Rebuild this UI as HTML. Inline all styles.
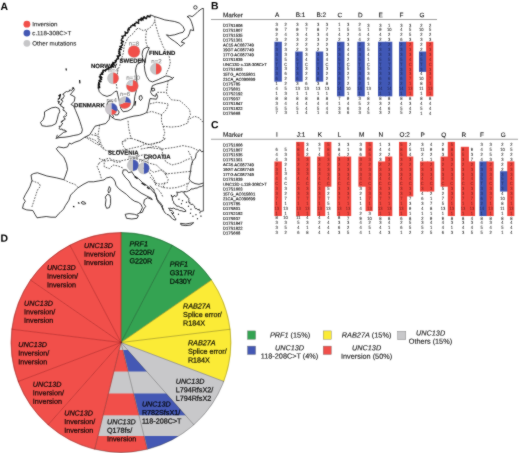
<!DOCTYPE html>
<html><head><meta charset="utf-8"><style>
html,body{margin:0;padding:0;background:#fff;width:520px;height:453px;overflow:hidden}
svg{display:block}
text{font-family:"Liberation Sans",sans-serif;text-rendering:geometricPrecision}
.pl{font-size:10.4px;font-weight:bold;fill:#000}
.hd{font-size:6.4px;fill:#111;stroke:#111;stroke-width:0.1}
.rl{font-size:4.15px;fill:#1a1a1a;stroke:#1a1a1a;stroke-width:0.14}
.dg{font-size:4.6px;fill:#1a1a1a;stroke:#1a1a1a;stroke-width:0.06;text-anchor:middle}
.dk{fill:#000;fill-opacity:0.5;stroke:#000;stroke-opacity:0.3}
.pt{font-size:7.2px;fill:#000;fill-opacity:0.85;stroke:#000;stroke-opacity:0.6;stroke-width:0.35}
.it{font-style:italic}
.lg{font-size:7.3px;fill:#222;stroke:#222;stroke-width:0.12}
.lgA{font-size:6.2px;fill:#222;stroke:#222;stroke-width:0.1}
.nl{font-size:6.1px;fill:#858585;stroke:#858585;stroke-width:0.1}
.cl{font-size:6px;font-weight:bold;fill:#111;stroke:#111;stroke-width:0.15}
.cst{fill:none;stroke:#111;stroke-width:0.8;stroke-linejoin:round}
.thick{stroke-width:1.2}
.nor{stroke-width:1.3}
.brd{fill:none;stroke:#333;stroke-width:0.8;stroke-dasharray:1.7 1.2}
</style></head><body>
<svg width="520" height="453" viewBox="0 0 520 453">
<defs><filter id="soft" x="0" y="0" width="520" height="453" filterUnits="userSpaceOnUse" color-interpolation-filters="sRGB"><feConvolveMatrix order="3" kernelMatrix="1 2 1 2 20 2 1 2 1" divisor="32" edgeMode="duplicate"/></filter></defs>
<g filter="url(#soft)">
<rect width="520" height="453" fill="#fff"/>
<path d="M117,91 L114.7,91.7 L111.6,94.8 L107,96.4 L102.4,94.8 L99.3,91.7 L98.5,88.6" class="cst"/>
<path d="M98.6,88.6 L98.2,88 L99.8,87.6 L98.1,86.9 L99.6,86.5 L99.1,85.9 L98.2,85.2 L99.7,84.8 L98.3,84.1 L99.6,83.7 L98.6,83 L98.7,82.4 L99.8,82 L101.1,81.6 L99,80.8 L99.4,80.2 L100.7,79.8 L101.7,79.3 L100.6,78.7 L100.1,78 L102,77.7 L99.2,76.8 L101.6,77.1 L100.3,75.8 L100.1,75.1 L100.3,74.5 L101.1,74.2 L102.8,74.4 L101.3,73 L102.7,73.1 L103.1,72.6 L102.5,71.8 L103.3,72 L102.9,70.4 L103.4,70.1 L104.1,70.2 L105.4,71.1 L105.4,70.1 L105.7,69.5 L106.6,69.9 L106.8,69.2 L107,68.5 L108.4,69.5 L108.7,68.9 L108.5,67.4 L109.5,67.9 L110,67.5 L111.1,68 L111.3,67.3 L111.1,65.8 L113.4,66.7 L111.5,64.7 L112.6,64.8 L113.7,64.9 L112.5,63.4 L113.7,63.5 L112.8,62.3 L114.8,62.9 L115.3,62.6 L115.1,61.8 L116.2,61.8 L115.1,60.4 L116.4,60.6 L116.4,60 L116.7,59.5 L116.7,58.8 L118,59 L118.6,58.7 L117.7,57.4 L118.5,57.3 L117.1,56 L119.2,56.1 L119.2,55.5 L120.4,55.3 L120.1,54.6 L118.7,53.6 L119.2,53.2 L120.2,52.9 L118.5,51.8 L119.9,51.6 L119.2,50.9 L119.1,50.3 L119,49.7 L121.3,49.6 L119.5,48.7 L119.9,48.2 L120.5,47.7 L122,47.5 L119.8,46.4 L121,46.1 L121.4,45.6 L122.5,45.2 L122.4,44.7 L122.7,44.1 L121,43.2 L121.6,42.7 L121.5,42.2 L123.2,41.9 L123.5,41.5 L121.2,40.3 L121.4,39.8 L121.7,39.3 L121.9,38.7 L122.7,38.4 L123.2,37.9 L122.3,37.1 L121.9,36.2 L123.3,36.3 L123.5,35.8 L124.3,35.6 L125.6,35.7 L125.2,34.8 L125,34 L125.6,33.7 L125.8,33.6 L124.9,31.8 L127.1,33.3 L127.3,32.6 L127.9,32.4 L128.1,31.8 L127.7,30.5 L128.1,30.1 L127.9,29.1 L129.4,29.9 L128.6,28.2 L129.1,27.8 L129.8,27.8 L130.1,27.3 L130.9,27.3 L130.8,26.3 L131.1,25.8 L131.9,25.8 L132.2,25.3 L133.2,25.6 L133,24.4 L135.1,26 L135,25 L134.5,23.6 L135.2,23.4 L135.8,23.3 L136.3,23 L136.2,22 L138.1,23.3 L138.8,23.3 L138.2,21.7 L138.7,21.4 L138.3,20.1 L138.8,19.7 L139.7,19.9 L140,19.3 L141.3,20.6 L140.9,18.5 L141.3,17.9 L143,20.2 L143,18.8 L143.1,17.5 L144.1,18.3 L144,16.6 L145.2,17.7 L146.1,18.8 L146.5,18.3 L146.9,17.6 L147,16.2 L147.6,16.3 L147.9,15.6 L149.1,17.1 L149.4,16.3 L150.1,16.8 L150.2,15.3 L150.7,15" class="cst nor"/>
<path d="M150.7,15 L154.8,16.6 L159.8,18.2 L164.8,19.9 L169.7,20.7 L174.7,21.5 L179.7,23.2 L183,26.5 L184.6,29.8 L183,32.3 L179.7,33.1 L174.7,34.8 L169.7,35.6 L166.4,34.8 L169.7,38.1 L174.7,41.4 L178,43.9 L180.5,46.4 L183,44.7 L184.6,43 L181.3,42.2 L183,39.7 L186.3,38.1 L188,36.4 L189.6,33.1 L190.4,29.8 L193.7,30.6 L192.9,26.5 L191.3,21.5 L189.6,18.2 L187.1,16.6 L189.6,15.7 L192.1,16.6 L194.6,14.9 L197.9,11.6 L201.2,9.1 L203,8.3" class="cst"/>
<circle cx="195.4" cy="7.4" r="1.7" class="cst"/>
<path d="M117,91 L117.8,94.8 L118.6,97.9 L119.5,102 L120.2,105.5 L120.9,108.7 L123.2,111.8 L127.9,111 L131.7,108.7 L134,104.1 L134.8,96.4 L136.4,90.2 L137,84 L136.4,76.3 L135.5,70.9 L136,67.6 L137.1,64.3 L139.3,63.2 L141.6,61 L142.7,57.7 L142.1,54.3 L142.7,51 L143.8,48.8 L144.9,48.3 L147.1,47.2 L149.3,47.7 L148,50.5 L146.5,54.3 L145.4,59.9 L144.3,65.4 L144.9,70.9 L146.5,76.4 L149.3,80.8 L152.6,81.9 L158.1,79.7 L162.5,77.5 L165.8,75.9 L169.2,76.4 L172.5,78.1 L174,77.2" class="cst"/>
<path d="M173,78.6 L168.1,80.7 L163.1,82.4 L156.5,84 L152.4,85.7 L151.5,89 L150.6,92.3 L152.5,95.2 L155.5,96.4 L156.4,93.5 L157.6,96.5 L156.5,99.2 L152.5,98.8 L150,98.6 L149,103 L148.2,108 L146.6,112.5 L143.2,114.2 L139.4,115.4 L134,116.1 L128.6,117.4 L124.6,118.7 L120.6,120.1 L115.2,119.4 L112,117.2 L109.8,115.4 L109.2,112 L107.4,108.5 L107,104 L108.6,101.3 L111.5,101 L113,102.2" class="cst"/>
<path d="M114.5,110.5 L117.5,109.6 L119.2,112 L118,114.8 L115,115 L114,112.6Z" class="cst"/>
<path d="M112.4,114.6 L113.6,116.8 L111.9,118" class="cst"/>
<path d="M151.3,88.6 L154.2,88.2 L154.8,90.3 L152.5,91.2Z" class="cst"/>
<path d="M139.4,96 L141.5,95.6 L142.4,98.2 L140.6,100.6 L139.2,99Z" class="cst"/>
<path d="M135.6,101.2 L134.8,105.6" class="cst thick"/>
<path d="M109.8,115.4 L109.2,119.4 L105.8,123.5 L100.4,124.8 L95,126.2 L92.3,130.6 L89.8,134.7 L84.8,137.2 L79.9,140.5 L74.9,142.2 L71.3,144 L69.4,143.1 L67.5,146.9 L63.8,147.8 L58.2,146.9 L56.3,148.8 L59.1,152.5 L63.8,157.2 L66.6,163.8 L67.5,169.4 L65.7,175 L63.8,179.7 L56.3,177.8 L46.9,176 L37.5,172.8 L33.8,173.5 L31,175 L31.9,180.7 L30,186.3 L28.1,190 L25.3,194.7 L23.5,198.5 L25.3,201.3 L23.5,204.1 L22.5,208.3 L26.7,209.9 L32.8,210.5 L35.2,214.7 L37,217.8 L41.3,217.2 L46.2,216.5 L51,217.2 L55.9,217.2 L58.3,214.1 L60,212.7 L63.5,209.2 L65.3,205.7 L68.8,200.4 L70.6,195.1 L74.1,191.5 L77.7,188 L83,184.5 L88.3,181.8 L93.6,181.8 L98.9,180.9 L104,179.9 L106.6,177.9 L110.6,177 L113.2,178.5 L115.2,181.9 L115.9,185.2 L118.5,188.5 L121.9,191.1 L126.5,194.4 L130.5,198.4 L134.4,201.1 L138.4,202.4 L141.1,204.4 L142.4,207.7 L141.1,210.3 L139.7,212.9 L137.1,214.3" class="cst"/>
<path d="M139.7,213 L142.4,212.3 L143.7,209 L145.7,206.4 L143.7,203.7 L144.4,199.7 L147.7,197.7 L152.3,199.7 L151.5,198.4 L146.4,195.8 L141.1,193.1 L135.8,189.1 L131.8,186.5 L129.1,181.2 L125.2,177.2 L122.5,173.2 L123.2,169.9 L126.5,169.9 L128.5,172.6 L131.8,171.9 L134.4,175.9 L138.4,178.5 L142.4,182.5 L146.4,185.2 L150.3,188.5 L154.3,193.1 L156.1,194.6 L156.7,199 L158.5,202.6 L160.9,205 L162.1,207.5 L163.3,209.9" class="cst"/>
<path d="M134.5,176.5 L137.5,178.8" class="cst thick"/>
<path d="M141.5,183 L145.5,185.6" class="cst thick"/>
<path d="M147,187.2 L149.5,189" class="cst thick"/>
<path d="M125.2,214.3 L129.1,213.6 L134.4,214.3 L138.4,215.6 L137.1,218.3 L131.8,219 L126.5,218.3Z" class="cst"/>
<path d="M109.3,186.5 L110.6,188.5 L109.9,191.8 L108.6,193.1 L108,190.5Z" class="cst"/>
<path d="M107.3,194.4 L109.9,195.1 L110.6,198.4 L110.6,203.7 L109.3,207.7 L106.6,208.3 L105.3,205 L106,199.7 L105.3,197.1Z" class="cst"/>
<path d="M82,201.6 L84.6,202 L85.8,203.8 L83,204.2 L81.2,203Z" class="cst"/>
<path d="M78,202.6 L79.4,203.4" class="cst thick"/>
<path d="M73,206.4 L74.4,206.8" class="cst thick"/>
<path d="M150,185.6 L150.3,186.6 L151.3,186.9 L152.3,188.6 L154,189.6 L154.2,191.7 L155.3,193.5 L155.5,195.7 L156.6,197.5 L157.2,199.4 L158.6,200.8 L159.2,202.2 L160.6,202.8 L161.2,204.4 L162.6,205.5 L162.4,207.2 L163.2,208.8 L163.1,210 L163.9,210.8 L164.5,212.4 L165.9,213.4 L167,214.5 L168.5,214.7 L169.2,215.8 L170.5,216.1 L171.1,217.7 L172.5,218.7 L174,219.8 L175.8,220 L175.6,218.5 L174.5,217.4 L173.9,215.8 L172.5,214.7 L172.3,213.3 L171.2,212.5 L172.2,213.5 L173.5,213.5 L173.3,211.9 L172.2,210.8 L171.1,210.3 L169.9,210.8 L169.6,209.2 L168.5,208.1 L169.2,208.6 L169.9,208.1 L171.9,208.6 L173.8,208.1 L175.6,209.2 L177.8,209.4 L179.6,210.6 L181.8,210.8 L183.7,211.6 L185.8,211.4 L185.5,210.1 L184.4,209.4 L182.7,208 L180.5,207.5 L178.7,206.3 L176.5,206.1 L175.5,204.4 L173.8,203.5 L173.6,201.7 L172.5,200.2 L172.3,197.4 L171.2,194.9 L171.6,196.2 L172.8,196.9 L173.9,196.4 L174.2,195.3 L175.2,196.2 L176.5,196.2 L177.3,195.1 L177.2,193.8 L177.3,192.8 L176.5,192.2 L179.2,192.4 L181.8,191.6 L183.1,192.1 L184.4,191.6 L186.5,191.7 L188.4,190.9 L190,190.3 L191,188.9 L193.1,189 L195,188.2 L197.2,188 L199,186.9 L201.5,186.5 L203.6,185.2" class="cst"/>
<path d="M184.5,191.5 L184,192.8 L184.2,193.7 L184.8,194 L185.2,194.6 L185.5,195.3 L186,195.9 L187.2,196.1 L187,197.1 L187.6,197.6 L188.5,197.9 L188.9,198.6 L188.7,199.5 L189.1,200.1 L188.7,201.2 L188.8,202.4 L190,202.2 L189.9,203.5 L190.4,204.1 L191,204.5 L192.3,204.2 L193,204.6 L193.5,205.1 L194.1,205.6 L194.6,206.1 L194.6,207.3 L195,208.3 L195.7,208.7 L196.8,208.6 L197.4,209.4 L197.9,210 L199.2,209.1 L199.3,210.4 L200,211.3 L200.9,211.2 L201.8,211.3 L202.7,211 L203.6,210.8" class="cst"/>
<path d="M191.3,165 L190.7,169.9 L190,174.7 L189.1,179 L191,181.6 L195,183.6 L199,184.3 L203.6,183" class="cst"/>
<path d="M196.3,153.5 L199.8,149.5 L201.6,151.8 L203.6,151.2" class="cst"/>
<path d="M192.7,161 L195.4,158 L196.3,153.5" class="cst"/>
<path d="M191.3,165 L192.7,161" class="cst"/>
<path d="M180.5,223.3 L185.8,224 L189.7,223.3 L193.7,222.7 L191,225 L185.8,225.6 L181.1,225Z" class="cst"/>
<path d="M190,213 L190.9,213.6" class="cst thick"/>
<path d="M192.5,216 L193.4,216.6" class="cst thick"/>
<path d="M195.5,214.5 L196.4,215.1" class="cst thick"/>
<path d="M197,218.5 L197.9,219.1" class="cst thick"/>
<path d="M199.5,212.5 L200.4,213.1" class="cst thick"/>
<path d="M200.5,215.8 L201.4,216.4" class="cst thick"/>
<path d="M188,206 L188.9,206.6" class="cst thick"/>
<path d="M190.5,209 L191.4,209.6" class="cst thick"/>
<path d="M186,202 L186.9,202.6" class="cst thick"/>
<path d="M182,200.5 L182.9,201.1" class="cst thick"/>
<path d="M178.5,199 L179.4,199.6" class="cst thick"/>
<path d="M181,203.5 L181.9,204.1" class="cst thick"/>
<path d="M178,214 L178.9,214.6" class="cst thick"/>
<path d="M73.6,87.9 L74.3,89.9 L70.3,94.6 L73,95.9 L75,97.2 L74.3,101.2 L71,104.5 L73.6,105.8 L75.6,110.5 L78.3,117 L79.9,121.5 L81.5,126.5 L82.4,129.8 L81.5,133.1 L78.2,134.7 L73.2,135.6 L69.9,136.4 L65,137.2 L60,137.5 L55.8,138.3 L59.7,135.6 L63.7,132.3 L66.4,131.7" class="cst"/>
<path d="M66.3,131.9 L66,130.7 L65.1,131.1 L64.7,130.1 L64.1,129.6 L63.1,130.3 L62.4,130 L62.1,128.9 L61.4,129.1 L60.2,129.4 L59.5,128.9 L58.9,128.4 L59.3,128.3 L59.6,127.5 L59.1,126.2 L60.2,126.4 L61.1,126.1 L61.4,125.2 L61.8,124.3 L62.8,123.5 L61.8,123.1 L61.3,122.6 L62.4,121.1 L61.3,121.5 L61.9,120.9 L62.9,121.1 L63.2,120 L64.2,120.2 L65.3,118.8 L64,118.2 L63.9,117.3 L63.7,116.4 L64.6,116.1 L65.6,116.5 L66.4,115.8 L66.4,114.9 L65.8,114.2 L66.9,113.1 L65.8,112.4 L65.2,111.8 L64.7,111.2 L64.4,110.4 L63.2,110.3 L63.3,110.4 L63.1,109.3 L63.6,108.7 L63.9,107.5 L62.8,107.7 L62.5,106.6 L61.6,106.4 L60.7,106.1 L61,104.5 L59.6,104.4 L60.5,104.2 L61.3,104 L61.6,103.3 L61.9,102.5 L62.7,101.7 L62.3,101 L62.2,100.1 L60.8,99.7 L61.8,99.6 L61.9,98.8 L62.3,98.2 L63.4,98.2 L63.5,97.4 L64.1,96.4 L64.1,95.6 L64,94.8 L63,94.5 L62.7,94.3 L63.3,93.7 L63.9,93.2 L64.8,92.9 L65.1,92.2 L65.9,91.9 L66.5,91.5 L67.5,91.9 L67.9,91.3 L68.7,91.3 L69.4,91.2 L69.7,89.9 L70.5,90.2 L71.4,90.6 L72.3,90 L72.2,88.6 L72.8,88.1 L73.6,87.9" class="cst"/>
<path d="M51.8,107.8 L55.8,107.2 L59,108.5 L59.7,111.8 L58.4,114.4 L57.1,119.7 L55.8,123.7 L51.8,125.7 L46.5,126.4 L41.9,125.7 L40.5,122.4 L43.2,119.7 L44.5,115.8 L44.5,111.8 L47.8,109.8Z" class="cst"/>
<path d="M58.5,96 L60.5,94.5 L59.6,98.2 L57.8,99.4" class="cst thick"/>
<path d="M57.5,101 L59.2,101.5 L58.5,103.6" class="cst thick"/>
<path d="M66,68.3 L66.4,70.5" class="cst thick"/>
<path d="M79.6,80 L79.9,83.4" class="cst thick"/>
<path d="M72.6,87.4 L73.8,88.6" class="cst thick"/>
<path d="M56,136.6 L57.8,135" class="cst"/>
<path d="M117,88.6 L116.3,84 L117,76.3 L117.8,70.1 L119.8,65.5 L120.6,61.8 L123.3,53 L124.2,46 L127.7,38 L133,33.6 L136.6,29" class="brd"/>
<path d="M136.6,29 L138.3,28.1 L143.2,30.6 L148.2,29 L151.5,26.5 L154.8,21.5 L154.8,17" class="brd"/>
<path d="M146.6,30.6 L145.7,36.4 L146,42.2 L147.1,45.5 L147.5,47.5" class="brd"/>
<path d="M154.8,21.5 L156.5,28.1 L159,36.4 L161.4,42.2 L163.1,46.6 L165.8,51 L169.2,56.6 L170.3,62.1 L169.2,67.6 L167,72 L165.8,75.3" class="brd"/>
<path d="M168.1,80.7 L167.3,86.5 L166.4,92.3 L167.3,94.8 L171.4,99.8 L179.7,100.6 L184.6,104.7 L189.6,109.7 L190.4,114.7 L188,119.6 L194.6,116.3 L199.5,118 L202.8,122.1" class="brd"/>
<path d="M157.3,92.3 L166.4,92.3" class="brd"/>
<path d="M149.9,103.9 L156.5,102.3 L163.1,103.1 L168.1,103.9" class="brd"/>
<path d="M168.1,104.7 L166.4,109.7 L161.5,114.7 L156.5,113 L151.5,111.4 L146.6,113" class="brd"/>
<path d="M161.5,114.7 L161.5,121.3 L163.1,126.3 L164.8,132.9 L163.1,137.8 L165.3,138.5" class="brd"/>
<path d="M163.1,126.3 L171.4,127.1 L179.7,126.3 L188,123 L188,119.6" class="brd"/>
<path d="M128,120.8 L128.6,127.5 L130,134.2 L131.3,138.3" class="brd"/>
<path d="M131.3,138.3 L126,138.9 L121.9,142.3 L123.3,146.3 L126,149.7" class="brd"/>
<path d="M131.3,138.3 L139.4,141 L146.1,143.6 L151.5,145 L156,143 L160,142.1 L165.3,138.5" class="brd"/>
<path d="M126,149.7 L134,147.7 L140.8,146.3 L146.1,143.6" class="brd"/>
<path d="M140.8,149 L148.8,147.7 L155.6,146.3 L160,147.5 L161.8,149.1" class="brd"/>
<path d="M95,132.9 L97.7,136.9 L99,142.3 L101.7,147.7 L105.8,150.4 L112.5,151.7 L119.2,150.4 L126,149.7" class="brd"/>
<path d="M99.7,124.8 L98.9,129.8 L98.1,134.7 L99.7,139.7 L101.4,144.7 L104.7,149.6" class="brd"/>
<path d="M84.8,137.2 L89.8,139.7 L94.8,143 L99.7,145.5" class="brd"/>
<path d="M91.5,134.7 L96.4,135.6" class="brd"/>
<path d="M98.9,163.3 L97.1,166.8 L98.9,170.3 L100.6,175.6 L101.5,179.2" class="brd"/>
<path d="M98.9,163.3 L104.2,159.7 L109.5,158 L113,161.5 L118.3,162.4 L121.8,161.5" class="brd"/>
<path d="M104.2,159.7 L104.2,166.8 L109.5,168.6 L113,165 L118,166 L123,168" class="brd"/>
<path d="M99,158.5 L105.8,161.1 L112.5,159.8 L119.2,161.1 L126,159.8 L132.7,158.5 L139.4,155.8 L144.8,154.4" class="brd"/>
<path d="M121.8,142.1 L127.1,140.3" class="brd"/>
<path d="M86.5,136.8 L95.3,140.3 L100.6,145.6" class="brd"/>
<path d="M63.8,179.7 L69.4,182.5 L75,184.4 L77.7,187" class="brd"/>
<path d="M31.9,180.7 L39.4,183.5 L40.3,186.3 L37.5,190 L35.6,195.7 L33.8,201.3 L31.9,206.9" class="brd"/>
<path d="M137.1,140.3 L147.7,144.7 L160,142.1 L165.3,138.5" class="brd"/>
<path d="M147.7,147.4 L161.8,149.1 L174.2,147.4 L183,145.6 L191.8,147.4 L198.9,150.9" class="brd"/>
<path d="M133.5,158 L140.6,159.7 L149.4,163.3 L156.5,165 L165.3,173.9" class="brd"/>
<path d="M165.3,173.9 L175.9,173 L183,172.1 L191.8,171.2" class="brd"/>
<path d="M188.3,150.9 L191.8,158 L192.7,165" class="brd"/>
<path d="M150,177.1 L153.6,180.8 L156.1,185.6" class="brd"/>
<path d="M165.3,173.9 L168.2,179.6 L167.2,183 L164.6,183 L160.6,184.3 L155.3,183" class="brd"/>
<path d="M158,185.6 L163.2,187.6 L169.9,188.2 L176.5,187.6 L183.1,185.6 L188.4,183 L190,181.5" class="brd"/>
<path d="M156.6,188.2 L160.6,192.2 L163.2,197.5" class="brd"/>
<path d="M164.6,183 L163.2,187.6" class="brd"/>
<path d="M188.4,183 L187,186.5 L186.8,189.5" class="brd"/>
<path d="M147.7,170.3 L153,177.4 L156.5,184.5" class="brd"/>
<path d="M150,169.9 L153.6,172.3 L162.1,169.9 L168.2,174.7" class="brd"/>
<path d="M161.8,149.1 L163,156 L166,162 L172,165 L180,163 L186,160 L191.8,158" class="brd"/>
<path d="M137.1,166 L143,168 L147.7,170.3" class="brd"/>
<path d="M130,160 L131.8,165 L131.8,171.9" class="brd"/>
<circle cx="26.9" cy="24.2" r="3.4" fill="#f14f4a"/>
<circle cx="26.9" cy="33.1" r="3.4" fill="#4458b4"/>
<circle cx="26.9" cy="43.3" r="3.4" fill="#c6c6c8"/>
<circle cx="134" cy="51.6" r="6.0" fill="#f14f4a"/>
<circle cx="134" cy="51.6" r="6.0" fill="none" stroke="#9a9a9a" stroke-width="0.3"/>
<path d="M156,68.9L156.00,63.30A5.6,5.6 0 0 1 156.00,74.50Z" fill="#f14f4a"/>
<path d="M156,68.9L156.00,74.50A5.6,5.6 0 0 1 156.00,63.30Z" fill="#c6c6c8"/>
<circle cx="156" cy="68.9" r="5.6" fill="none" stroke="#9a9a9a" stroke-width="0.3"/>
<path d="M113.1,78.2L113.10,72.60A5.6,5.6 0 0 1 113.10,83.80Z" fill="#f14f4a"/>
<path d="M113.1,78.2L113.10,83.80A5.6,5.6 0 0 1 113.10,72.60Z" fill="#c6c6c8"/>
<circle cx="113.1" cy="78.2" r="5.6" fill="none" stroke="#9a9a9a" stroke-width="0.3"/>
<path d="M132.3,86.0L133.14,80.06A6.0,6.0 0 1 1 126.43,84.75Z" fill="#f14f4a"/>
<path d="M132.3,86.0L126.43,84.75A6.0,6.0 0 0 1 128.86,81.09Z" fill="#c6c6c8"/>
<path d="M132.3,86.0L128.86,81.09A6.0,6.0 0 0 1 130.75,80.20Z" fill="#b9c3dd"/>
<path d="M132.3,86.0L130.75,80.20A6.0,6.0 0 0 1 133.14,80.06Z" fill="#c6c6c8"/>
<circle cx="132.3" cy="86.0" r="6.0" fill="none" stroke="#9a9a9a" stroke-width="0.3"/>
<path d="M124.9,102.6L125.94,96.69A6.0,6.0 0 0 1 130.88,103.12Z" fill="#4458b4"/>
<path d="M124.9,102.6L130.88,103.12A6.0,6.0 0 0 1 119.26,104.65Z" fill="#f14f4a"/>
<path d="M124.9,102.6L119.26,104.65A6.0,6.0 0 0 1 125.94,96.69Z" fill="#c6c6c8"/>
<circle cx="124.9" cy="102.6" r="6.0" fill="none" stroke="#9a9a9a" stroke-width="0.3"/>
<path d="M111.4,109.0L111.40,103.00A6.0,6.0 0 0 1 116.84,111.54Z" fill="#4458b4"/>
<path d="M111.4,109.0L116.84,111.54A6.0,6.0 0 0 1 111.40,115.00Z" fill="#f14f4a"/>
<path d="M111.4,109.0L111.40,115.00A6.0,6.0 0 0 1 111.40,103.00Z" fill="#cbc6cc"/>
<circle cx="111.4" cy="109.0" r="6.0" fill="none" stroke="#9a9a9a" stroke-width="0.3"/>
<path d="M133,165.3L133.00,159.60A5.7,5.7 0 0 1 133.00,171.00Z" fill="#4458b4"/>
<path d="M133,165.3L133.00,171.00A5.7,5.7 0 0 1 133.00,159.60Z" fill="#c6c6c8"/>
<circle cx="133" cy="165.3" r="5.7" fill="none" stroke="#9a9a9a" stroke-width="0.3"/>
<path d="M143.7,168.3L143.70,162.60A5.7,5.7 0 0 1 143.70,174.00Z" fill="#4458b4"/>
<path d="M143.7,168.3L143.70,174.00A5.7,5.7 0 0 1 143.70,162.60Z" fill="#c6c6c8"/>
<circle cx="143.7" cy="168.3" r="5.7" fill="none" stroke="#9a9a9a" stroke-width="0.3"/>
<rect x="202.9" y="8" width="0.8" height="202.8" fill="#333"/>

<rect x="211" y="19.1" width="226" height="0.8" fill="#8a8a8a"/>
<rect x="274.4" y="41.75" width="7.45" height="39.91" fill="#4158b6"/>
<rect x="295.2" y="51.52" width="7.45" height="30.13" fill="#4158b6"/>
<rect x="315.8" y="51.52" width="7.45" height="30.13" fill="#4158b6"/>
<rect x="337" y="41.75" width="7.45" height="54.57" fill="#4158b6"/>
<rect x="357.3" y="41.75" width="7.45" height="54.57" fill="#4158b6"/>
<rect x="378" y="41.75" width="8.15" height="54.57" fill="#4158b6"/>
<rect x="385.15" y="41.75" width="7.15" height="54.57" fill="#4158b6"/>
<rect x="399" y="41.75" width="8.15" height="54.57" fill="#4158b6"/>
<rect x="406.15" y="41.75" width="7.15" height="54.57" fill="#f1473f"/>
<rect x="419" y="51.52" width="8.15" height="20.36" fill="#4158b6"/>
<rect x="426.15" y="41.75" width="7.15" height="54.57" fill="#f1473f"/>
<rect x="211" y="138.8" width="307" height="0.8" fill="#8a8a8a"/>
<rect x="274.4" y="161.45" width="7.45" height="54.57" fill="#f1473f"/>
<rect x="296.1" y="141.9" width="8.15" height="74.12" fill="#f1473f"/>
<rect x="303.25" y="156.56" width="7.15" height="59.46" fill="#f1473f"/>
<rect x="317.1" y="156.56" width="8.15" height="59.46" fill="#f1473f"/>
<rect x="324.25" y="141.9" width="7.15" height="44.8" fill="#f1473f"/>
<rect x="336.9" y="156.56" width="8.15" height="59.46" fill="#f1473f"/>
<rect x="344.05" y="156.56" width="7.15" height="59.46" fill="#f1473f"/>
<rect x="358.4" y="156.56" width="8.15" height="30.13" fill="#f1473f"/>
<rect x="365.55" y="141.9" width="7.15" height="69.23" fill="#f1473f"/>
<rect x="378" y="161.45" width="8.15" height="54.57" fill="#f1473f"/>
<rect x="385.15" y="156.56" width="7.15" height="59.46" fill="#f1473f"/>
<rect x="399" y="141.9" width="8.15" height="74.12" fill="#f1473f"/>
<rect x="406.15" y="156.56" width="7.15" height="39.91" fill="#f1473f"/>
<rect x="420" y="161.45" width="8.15" height="30.13" fill="#f1473f"/>
<rect x="427.15" y="161.45" width="7.15" height="30.13" fill="#f1473f"/>
<rect x="440.6" y="156.56" width="8.15" height="30.13" fill="#f1473f"/>
<rect x="447.75" y="141.9" width="7.15" height="74.12" fill="#f1473f"/>
<rect x="460.8" y="146.79" width="8.15" height="69.23" fill="#f1473f"/>
<rect x="467.95" y="161.45" width="7.15" height="54.57" fill="#f1473f"/>
<rect x="479.4" y="161.45" width="8.15" height="54.57" fill="#4158b6"/>
<rect x="486.55" y="161.45" width="7.15" height="54.57" fill="#f1473f"/>
<rect x="500.1" y="171.22" width="8.15" height="20.36" fill="#4158b6"/>
<rect x="507.25" y="161.45" width="7.15" height="54.57" fill="#f1473f"/>
<defs>
<clipPath id="cp5"><path d="M121,342.5L193.94,424.84A110,110 0 0 1 147.32,449.3Z"/></clipPath>
<clipPath id="cp6"><path d="M121,342.5L147.32,449.3A110,110 0 0 1 94.68,449.3Z"/></clipPath>
</defs>
<path d="M121,342.5L121,232.5A110,110 0 0 1 172.12,245.1Z" fill="#34a352" stroke="#34a352" stroke-width="0.6"/>
<path d="M121,342.5L172.12,245.1A110,110 0 0 1 211.53,280.01Z" fill="#34a352" stroke="#34a352" stroke-width="0.6"/>
<path d="M121,342.5L211.53,280.01A110,110 0 0 1 230.2,329.24Z" fill="#fbeb36" stroke="#fbeb36" stroke-width="0.6"/>
<path d="M121,342.5L230.2,329.24A110,110 0 0 1 223.85,381.51Z" fill="#fbeb36" stroke="#fbeb36" stroke-width="0.6"/>
<path d="M121,342.5L223.85,381.51A110,110 0 0 1 193.94,424.84Z" fill="#c8c8ca" stroke="#c8c8ca" stroke-width="0.6"/>
<path d="M121,342.5L193.94,424.84A110,110 0 0 1 147.32,449.3Z" fill="#c8c8ca" stroke="#c8c8ca" stroke-width="0.6"/>
<g clip-path="url(#cp5)">
<rect x="0" y="350" width="260" height="21.5" fill="#4458b4"/>
<rect x="0" y="393.5" width="260" height="21.8" fill="#4458b4"/>
<rect x="0" y="436" width="260" height="24" fill="#4458b4"/>
</g>
<path d="M121,342.5L147.32,449.3A110,110 0 0 1 94.68,449.3Z" fill="#c8c8ca" stroke="#c8c8ca" stroke-width="0.6"/>
<g clip-path="url(#cp6)">
<rect x="0" y="350" width="260" height="21.5" fill="#f14f4a"/>
<rect x="0" y="393.5" width="260" height="21.8" fill="#f14f4a"/>
<rect x="0" y="436" width="260" height="24" fill="#f14f4a"/>
</g>
<path d="M121,342.5L94.68,449.3A110,110 0 0 1 48.06,424.84Z" fill="#f14f4a" stroke="#f14f4a" stroke-width="0.6"/>
<path d="M121,342.5L48.06,424.84A110,110 0 0 1 18.15,381.51Z" fill="#f14f4a" stroke="#f14f4a" stroke-width="0.6"/>
<path d="M121,342.5L18.15,381.51A110,110 0 0 1 11.8,329.24Z" fill="#f14f4a" stroke="#f14f4a" stroke-width="0.6"/>
<path d="M121,342.5L11.8,329.24A110,110 0 0 1 30.47,280.01Z" fill="#f14f4a" stroke="#f14f4a" stroke-width="0.6"/>
<path d="M121,342.5L30.47,280.01A110,110 0 0 1 69.88,245.1Z" fill="#f14f4a" stroke="#f14f4a" stroke-width="0.6"/>
<path d="M121,342.5L69.88,245.1A110,110 0 0 1 121,232.5Z" fill="#f14f4a" stroke="#f14f4a" stroke-width="0.6"/>
<line x1="121" y1="342.5" x2="121" y2="232.5" stroke="#7a3a1a" stroke-width="0.6" stroke-opacity="0.85"/>
<line x1="121" y1="342.5" x2="172.12" y2="245.1" stroke="#000" stroke-width="0.6" stroke-opacity="0.42"/>
<line x1="121" y1="342.5" x2="211.53" y2="280.01" stroke="#000" stroke-width="0.6" stroke-opacity="0.42"/>
<line x1="121" y1="342.5" x2="230.2" y2="329.24" stroke="#000" stroke-width="0.6" stroke-opacity="0.42"/>
<line x1="121" y1="342.5" x2="223.85" y2="381.51" stroke="#000" stroke-width="0.6" stroke-opacity="0.42"/>
<line x1="121" y1="342.5" x2="193.94" y2="424.84" stroke="#000" stroke-width="0.6" stroke-opacity="0.42"/>
<line x1="121" y1="342.5" x2="147.32" y2="449.3" stroke="#000" stroke-width="0.6" stroke-opacity="0.42"/>
<line x1="121" y1="342.5" x2="94.68" y2="449.3" stroke="#000" stroke-width="0.6" stroke-opacity="0.42"/>
<line x1="121" y1="342.5" x2="48.06" y2="424.84" stroke="#a31f1f" stroke-width="0.6" stroke-opacity="0.85"/>
<line x1="121" y1="342.5" x2="18.15" y2="381.51" stroke="#a31f1f" stroke-width="0.6" stroke-opacity="0.85"/>
<line x1="121" y1="342.5" x2="11.8" y2="329.24" stroke="#a31f1f" stroke-width="0.6" stroke-opacity="0.85"/>
<line x1="121" y1="342.5" x2="30.47" y2="280.01" stroke="#a31f1f" stroke-width="0.6" stroke-opacity="0.85"/>
<line x1="121" y1="342.5" x2="69.88" y2="245.1" stroke="#a31f1f" stroke-width="0.6" stroke-opacity="0.85"/>
<circle cx="121.0" cy="342.5" r="109.8" fill="none" stroke="#000" stroke-width="0.5" stroke-opacity="0.45"/>
<rect x="247.5" y="330.9" width="8.1" height="8.4" fill="#34a352" stroke="#777" stroke-width="0.4"/>
<rect x="247.5" y="346.1" width="8.1" height="8.4" fill="#4458b4" stroke="#777" stroke-width="0.4"/>
<rect x="323.2" y="330.9" width="8.1" height="8.4" fill="#fbeb36" stroke="#777" stroke-width="0.4"/>
<rect x="323.2" y="346.1" width="8.1" height="8.4" fill="#f14f4a" stroke="#777" stroke-width="0.4"/>
<rect x="397.7" y="331.3" width="8.1" height="8.4" fill="#c8c8ca" stroke="#777" stroke-width="0.4"/>

<g transform="matrix(1,0.0005,0,1,0,-0.13)">
<text x="32.3" y="26.4" class="lgA">Inversion</text>
<text x="32.3" y="35.3" class="lgA">c.118-308C&gt;T</text>
<text x="32.3" y="45.5" class="lgA">Other mutations</text>
<text x="134" y="45.7" class="nl" text-anchor="middle">n=8</text>
<text x="156.5" y="63.2" class="nl" text-anchor="middle">n=2</text>
<text x="113.4" y="72.3" class="nl" text-anchor="middle">n=4</text>
<text x="133.1" y="79.8" class="nl" text-anchor="middle">n=10</text>
<text x="125.1" y="96.2" class="nl" text-anchor="middle">n=6</text>
<text x="111.7" y="102.4" class="nl" text-anchor="middle">n=4</text>
<text x="133.4" y="159.2" class="nl" text-anchor="middle">n=2</text>
<text x="144.1" y="162.3" class="nl" text-anchor="middle">n=2</text>
<text x="119.6" y="62.9" class="cl">SWEDEN</text>
<text x="149" y="55.1" class="cl">FINLAND</text>
<text x="91" y="68.1" class="cl">NORWAY</text>
<text x="74.1" y="107.3" class="cl">DENMARK</text>
<text x="108" y="154.9" class="cl">SLOVENIA</text>
<text x="143.7" y="158.9" class="cl">CROATIA</text>
<text x="0.6" y="10.1" class="pl">A</text>
<text x="211" y="9.4" class="pl">B</text>
<text x="211" y="128.3" class="pl">C</text>
<text x="0.5" y="241.9" class="pl">D</text>
<text x="223" y="17.2" class="hd">Marker</text>
<text x="275" y="17.1" class="hd">A</text>
<text x="295.8" y="17.1" class="hd">B:1</text>
<text x="316.4" y="17.1" class="hd">B:2</text>
<text x="337.6" y="17.1" class="hd">C</text>
<text x="357.9" y="17.1" class="hd">D</text>
<text x="378.6" y="17.1" class="hd">E</text>
<text x="399.6" y="17.1" class="hd">F</text>
<text x="419.6" y="17.1" class="hd">G</text>
<text x="223" y="26.9" class="rl">D17S1606</text>
<text x="223" y="31.79" class="rl">D17S1807</text>
<text x="223" y="36.67" class="rl">D17S1535</text>
<text x="223" y="41.56" class="rl">D17S1301</text>
<text x="223" y="46.45" class="rl">AC15 AC087749</text>
<text x="223" y="51.34" class="rl">19GT AC087749</text>
<text x="223" y="56.22" class="rl">17TG AC087749</text>
<text x="223" y="61.11" class="rl">D17S1839</text>
<text x="223" y="66" class="rl">UNC13D c.118-308C>T</text>
<text x="223" y="70.88" class="rl">D17S1603</text>
<text x="223" y="75.77" class="rl">15TG_AC015801</text>
<text x="223" y="80.66" class="rl">21CA_AC090699</text>
<text x="223" y="85.54" class="rl">D17S785</text>
<text x="223" y="90.43" class="rl">D17S801</text>
<text x="223" y="95.32" class="rl">D17S2192</text>
<text x="223" y="100.2" class="rl">D17S937</text>
<text x="223" y="105.09" class="rl">D17S1847</text>
<text x="223" y="109.98" class="rl">D17S1822</text>
<text x="223" y="114.87" class="rl">D17S668</text>
<text transform="translate(276.7,26.45) scale(0.88,1)" class="dg">3</text>
<text transform="translate(276.7,31.34) scale(0.88,1)" class="dg">9</text>
<text transform="translate(276.7,36.22) scale(0.88,1)" class="dg">2</text>
<text transform="translate(276.7,41.11) scale(0.88,1)" class="dg">3</text>
<text transform="translate(276.7,46) scale(0.88,1)" class="dg dk">2</text>
<text transform="translate(276.7,50.88) scale(0.88,1)" class="dg dk">3</text>
<text transform="translate(276.7,55.77) scale(0.88,1)" class="dg dk">3</text>
<text transform="translate(276.7,60.66) scale(0.88,1)" class="dg dk">5</text>
<text transform="translate(276.7,65.55) scale(0.88,1)" class="dg dk">T</text>
<text transform="translate(276.7,70.43) scale(0.88,1)" class="dg dk">3</text>
<text transform="translate(276.7,75.32) scale(0.88,1)" class="dg dk">3</text>
<text transform="translate(276.7,80.21) scale(0.88,1)" class="dg dk">6</text>
<text transform="translate(276.7,85.09) scale(0.88,1)" class="dg">1</text>
<text transform="translate(276.7,89.98) scale(0.88,1)" class="dg">4</text>
<text transform="translate(276.7,94.87) scale(0.88,1)" class="dg">1</text>
<text transform="translate(276.7,99.75) scale(0.88,1)" class="dg">8</text>
<text transform="translate(276.7,104.64) scale(0.88,1)" class="dg">3</text>
<text transform="translate(276.7,109.53) scale(0.88,1)" class="dg">5</text>
<text transform="translate(276.7,114.42) scale(0.88,1)" class="dg">7</text>
<text transform="translate(285.6,26.45) scale(0.88,1)" class="dg">2</text>
<text transform="translate(285.6,31.34) scale(0.88,1)" class="dg">7</text>
<text transform="translate(285.6,36.22) scale(0.88,1)" class="dg">4</text>
<text transform="translate(285.6,41.11) scale(0.88,1)" class="dg">2</text>
<text transform="translate(285.6,46) scale(0.88,1)" class="dg">2</text>
<text transform="translate(285.6,50.88) scale(0.88,1)" class="dg">3</text>
<text transform="translate(285.6,55.77) scale(0.88,1)" class="dg">3</text>
<text transform="translate(285.6,60.66) scale(0.88,1)" class="dg">5</text>
<text transform="translate(285.6,65.55) scale(0.88,1)" class="dg">C</text>
<text transform="translate(285.6,70.43) scale(0.88,1)" class="dg">3</text>
<text transform="translate(285.6,75.32) scale(0.88,1)" class="dg">6</text>
<text transform="translate(285.6,80.21) scale(0.88,1)" class="dg">2</text>
<text transform="translate(285.6,85.09) scale(0.88,1)" class="dg">2</text>
<text transform="translate(285.6,89.98) scale(0.88,1)" class="dg">5</text>
<text transform="translate(285.6,94.87) scale(0.88,1)" class="dg">3</text>
<text transform="translate(285.6,99.75) scale(0.88,1)" class="dg">8</text>
<text transform="translate(285.6,104.64) scale(0.88,1)" class="dg">4</text>
<text transform="translate(285.6,109.53) scale(0.88,1)" class="dg">5</text>
<text transform="translate(285.6,114.42) scale(0.88,1)" class="dg">3</text>
<text transform="translate(297.5,26.45) scale(0.88,1)" class="dg">3</text>
<text transform="translate(297.5,31.34) scale(0.88,1)" class="dg">9</text>
<text transform="translate(297.5,36.22) scale(0.88,1)" class="dg">3</text>
<text transform="translate(297.5,41.11) scale(0.88,1)" class="dg">3</text>
<text transform="translate(297.5,46) scale(0.88,1)" class="dg">2</text>
<text transform="translate(297.5,50.88) scale(0.88,1)" class="dg">2</text>
<text transform="translate(297.5,55.77) scale(0.88,1)" class="dg dk">3</text>
<text transform="translate(297.5,60.66) scale(0.88,1)" class="dg dk">5</text>
<text transform="translate(297.5,65.55) scale(0.88,1)" class="dg dk">T</text>
<text transform="translate(297.5,70.43) scale(0.88,1)" class="dg dk">3</text>
<text transform="translate(297.5,75.32) scale(0.88,1)" class="dg dk">3</text>
<text transform="translate(297.5,80.21) scale(0.88,1)" class="dg dk">6</text>
<text transform="translate(297.5,85.09) scale(0.88,1)" class="dg">3</text>
<text transform="translate(297.5,89.98) scale(0.88,1)" class="dg">13</text>
<text transform="translate(297.5,94.87) scale(0.88,1)" class="dg">1</text>
<text transform="translate(297.5,99.75) scale(0.88,1)" class="dg">8</text>
<text transform="translate(297.5,104.64) scale(0.88,1)" class="dg">4</text>
<text transform="translate(297.5,109.53) scale(0.88,1)" class="dg">5</text>
<text transform="translate(297.5,114.42) scale(0.88,1)" class="dg">1</text>
<text transform="translate(306.4,26.45) scale(0.88,1)" class="dg">3</text>
<text transform="translate(306.4,31.34) scale(0.88,1)" class="dg">7</text>
<text transform="translate(306.4,36.22) scale(0.88,1)" class="dg">4</text>
<text transform="translate(306.4,41.11) scale(0.88,1)" class="dg">2</text>
<text transform="translate(306.4,46) scale(0.88,1)" class="dg">2</text>
<text transform="translate(306.4,50.88) scale(0.88,1)" class="dg">3</text>
<text transform="translate(306.4,55.77) scale(0.88,1)" class="dg">3</text>
<text transform="translate(306.4,60.66) scale(0.88,1)" class="dg">4</text>
<text transform="translate(306.4,65.55) scale(0.88,1)" class="dg">C</text>
<text transform="translate(306.4,70.43) scale(0.88,1)" class="dg">3</text>
<text transform="translate(306.4,75.32) scale(0.88,1)" class="dg">2</text>
<text transform="translate(306.4,80.21) scale(0.88,1)" class="dg">2</text>
<text transform="translate(306.4,85.09) scale(0.88,1)" class="dg">6</text>
<text transform="translate(306.4,89.98) scale(0.88,1)" class="dg">13</text>
<text transform="translate(306.4,94.87) scale(0.88,1)" class="dg">1</text>
<text transform="translate(306.4,99.75) scale(0.88,1)" class="dg">8</text>
<text transform="translate(306.4,104.64) scale(0.88,1)" class="dg">4</text>
<text transform="translate(306.4,109.53) scale(0.88,1)" class="dg">4</text>
<text transform="translate(306.4,114.42) scale(0.88,1)" class="dg">4</text>
<text transform="translate(318.1,26.45) scale(0.88,1)" class="dg">3</text>
<text transform="translate(318.1,31.34) scale(0.88,1)" class="dg">8</text>
<text transform="translate(318.1,36.22) scale(0.88,1)" class="dg">3</text>
<text transform="translate(318.1,41.11) scale(0.88,1)" class="dg">3</text>
<text transform="translate(318.1,46) scale(0.88,1)" class="dg">2</text>
<text transform="translate(318.1,50.88) scale(0.88,1)" class="dg">2</text>
<text transform="translate(318.1,55.77) scale(0.88,1)" class="dg dk">3</text>
<text transform="translate(318.1,60.66) scale(0.88,1)" class="dg dk">5</text>
<text transform="translate(318.1,65.55) scale(0.88,1)" class="dg dk">T</text>
<text transform="translate(318.1,70.43) scale(0.88,1)" class="dg dk">3</text>
<text transform="translate(318.1,75.32) scale(0.88,1)" class="dg dk">3</text>
<text transform="translate(318.1,80.21) scale(0.88,1)" class="dg dk">6</text>
<text transform="translate(318.1,85.09) scale(0.88,1)" class="dg">3</text>
<text transform="translate(318.1,89.98) scale(0.88,1)" class="dg">13</text>
<text transform="translate(318.1,94.87) scale(0.88,1)" class="dg">1</text>
<text transform="translate(318.1,99.75) scale(0.88,1)" class="dg">8</text>
<text transform="translate(318.1,104.64) scale(0.88,1)" class="dg">4</text>
<text transform="translate(318.1,109.53) scale(0.88,1)" class="dg">5</text>
<text transform="translate(318.1,114.42) scale(0.88,1)" class="dg">1</text>
<text transform="translate(327,26.45) scale(0.88,1)" class="dg">3</text>
<text transform="translate(327,31.34) scale(0.88,1)" class="dg">7</text>
<text transform="translate(327,36.22) scale(0.88,1)" class="dg">4</text>
<text transform="translate(327,41.11) scale(0.88,1)" class="dg">2</text>
<text transform="translate(327,46) scale(0.88,1)" class="dg">2</text>
<text transform="translate(327,50.88) scale(0.88,1)" class="dg">3</text>
<text transform="translate(327,55.77) scale(0.88,1)" class="dg">3</text>
<text transform="translate(327,60.66) scale(0.88,1)" class="dg">4</text>
<text transform="translate(327,65.55) scale(0.88,1)" class="dg">C</text>
<text transform="translate(327,70.43) scale(0.88,1)" class="dg">3</text>
<text transform="translate(327,75.32) scale(0.88,1)" class="dg">2</text>
<text transform="translate(327,80.21) scale(0.88,1)" class="dg">2</text>
<text transform="translate(327,85.09) scale(0.88,1)" class="dg">8</text>
<text transform="translate(327,89.98) scale(0.88,1)" class="dg">13</text>
<text transform="translate(327,94.87) scale(0.88,1)" class="dg">1</text>
<text transform="translate(327,99.75) scale(0.88,1)" class="dg">8</text>
<text transform="translate(327,104.64) scale(0.88,1)" class="dg">4</text>
<text transform="translate(327,109.53) scale(0.88,1)" class="dg">4</text>
<text transform="translate(327,114.42) scale(0.88,1)" class="dg">4</text>
<text transform="translate(339.3,26.45) scale(0.88,1)" class="dg">1</text>
<text transform="translate(339.3,31.34) scale(0.88,1)" class="dg">1</text>
<text transform="translate(339.3,36.22) scale(0.88,1)" class="dg">4</text>
<text transform="translate(339.3,41.11) scale(0.88,1)" class="dg">2</text>
<text transform="translate(339.3,46) scale(0.88,1)" class="dg dk">2</text>
<text transform="translate(339.3,50.88) scale(0.88,1)" class="dg dk">3</text>
<text transform="translate(339.3,55.77) scale(0.88,1)" class="dg dk">3</text>
<text transform="translate(339.3,60.66) scale(0.88,1)" class="dg dk">5</text>
<text transform="translate(339.3,65.55) scale(0.88,1)" class="dg dk">T</text>
<text transform="translate(339.3,70.43) scale(0.88,1)" class="dg dk">3</text>
<text transform="translate(339.3,75.32) scale(0.88,1)" class="dg dk">3</text>
<text transform="translate(339.3,80.21) scale(0.88,1)" class="dg dk">6</text>
<text transform="translate(339.3,85.09) scale(0.88,1)" class="dg dk">2</text>
<text transform="translate(339.3,89.98) scale(0.88,1)" class="dg dk">14</text>
<text transform="translate(339.3,94.87) scale(0.88,1)" class="dg dk">1</text>
<text transform="translate(339.3,99.75) scale(0.88,1)" class="dg">7</text>
<text transform="translate(339.3,104.64) scale(0.88,1)" class="dg">1</text>
<text transform="translate(339.3,109.53) scale(0.88,1)" class="dg">3</text>
<text transform="translate(339.3,114.42) scale(0.88,1)" class="dg">3</text>
<text transform="translate(348.2,26.45) scale(0.88,1)" class="dg">3</text>
<text transform="translate(348.2,31.34) scale(0.88,1)" class="dg">5</text>
<text transform="translate(348.2,36.22) scale(0.88,1)" class="dg">2</text>
<text transform="translate(348.2,41.11) scale(0.88,1)" class="dg">3</text>
<text transform="translate(348.2,46) scale(0.88,1)" class="dg">3</text>
<text transform="translate(348.2,50.88) scale(0.88,1)" class="dg">4</text>
<text transform="translate(348.2,55.77) scale(0.88,1)" class="dg">4</text>
<text transform="translate(348.2,60.66) scale(0.88,1)" class="dg">2</text>
<text transform="translate(348.2,65.55) scale(0.88,1)" class="dg">C</text>
<text transform="translate(348.2,70.43) scale(0.88,1)" class="dg">5</text>
<text transform="translate(348.2,75.32) scale(0.88,1)" class="dg">2</text>
<text transform="translate(348.2,80.21) scale(0.88,1)" class="dg">7</text>
<text transform="translate(348.2,85.09) scale(0.88,1)" class="dg">2</text>
<text transform="translate(348.2,89.98) scale(0.88,1)" class="dg">10</text>
<text transform="translate(348.2,94.87) scale(0.88,1)" class="dg">1</text>
<text transform="translate(348.2,99.75) scale(0.88,1)" class="dg">9</text>
<text transform="translate(348.2,104.64) scale(0.88,1)" class="dg">4</text>
<text transform="translate(348.2,109.53) scale(0.88,1)" class="dg">6</text>
<text transform="translate(348.2,114.42) scale(0.88,1)" class="dg">6</text>
<text transform="translate(359.6,26.45) scale(0.88,1)" class="dg">2</text>
<text transform="translate(359.6,31.34) scale(0.88,1)" class="dg">5</text>
<text transform="translate(359.6,36.22) scale(0.88,1)" class="dg">4</text>
<text transform="translate(359.6,41.11) scale(0.88,1)" class="dg">4</text>
<text transform="translate(359.6,46) scale(0.88,1)" class="dg dk">2</text>
<text transform="translate(359.6,50.88) scale(0.88,1)" class="dg dk">3</text>
<text transform="translate(359.6,55.77) scale(0.88,1)" class="dg dk">3</text>
<text transform="translate(359.6,60.66) scale(0.88,1)" class="dg dk">5</text>
<text transform="translate(359.6,65.55) scale(0.88,1)" class="dg dk">T</text>
<text transform="translate(359.6,70.43) scale(0.88,1)" class="dg dk">3</text>
<text transform="translate(359.6,75.32) scale(0.88,1)" class="dg dk">3</text>
<text transform="translate(359.6,80.21) scale(0.88,1)" class="dg dk">6</text>
<text transform="translate(359.6,85.09) scale(0.88,1)" class="dg dk">2</text>
<text transform="translate(359.6,89.98) scale(0.88,1)" class="dg dk">14</text>
<text transform="translate(359.6,94.87) scale(0.88,1)" class="dg dk">1</text>
<text transform="translate(359.6,99.75) scale(0.88,1)" class="dg">3</text>
<text transform="translate(359.6,104.64) scale(0.88,1)" class="dg">5</text>
<text transform="translate(359.6,109.53) scale(0.88,1)" class="dg">3</text>
<text transform="translate(359.6,114.42) scale(0.88,1)" class="dg">3</text>
<text transform="translate(368.5,26.45) scale(0.88,1)" class="dg">3</text>
<text transform="translate(368.5,31.34) scale(0.88,1)" class="dg">1</text>
<text transform="translate(368.5,36.22) scale(0.88,1)" class="dg">4</text>
<text transform="translate(368.5,41.11) scale(0.88,1)" class="dg">2</text>
<text transform="translate(368.5,46) scale(0.88,1)" class="dg">3</text>
<text transform="translate(368.5,50.88) scale(0.88,1)" class="dg">5</text>
<text transform="translate(368.5,55.77) scale(0.88,1)" class="dg">4</text>
<text transform="translate(368.5,60.66) scale(0.88,1)" class="dg">1</text>
<text transform="translate(368.5,65.55) scale(0.88,1)" class="dg">C</text>
<text transform="translate(368.5,70.43) scale(0.88,1)" class="dg">5</text>
<text transform="translate(368.5,75.32) scale(0.88,1)" class="dg">3</text>
<text transform="translate(368.5,80.21) scale(0.88,1)" class="dg">6</text>
<text transform="translate(368.5,85.09) scale(0.88,1)" class="dg">1</text>
<text transform="translate(368.5,89.98) scale(0.88,1)" class="dg">13</text>
<text transform="translate(368.5,94.87) scale(0.88,1)" class="dg">1</text>
<text transform="translate(368.5,99.75) scale(0.88,1)" class="dg">8</text>
<text transform="translate(368.5,104.64) scale(0.88,1)" class="dg">2</text>
<text transform="translate(368.5,109.53) scale(0.88,1)" class="dg">4</text>
<text transform="translate(368.5,114.42) scale(0.88,1)" class="dg">5</text>
<text transform="translate(380.3,26.45) scale(0.88,1)" class="dg">3</text>
<text transform="translate(380.3,31.34) scale(0.88,1)" class="dg">9</text>
<text transform="translate(380.3,36.22) scale(0.88,1)" class="dg">4</text>
<text transform="translate(380.3,41.11) scale(0.88,1)" class="dg">2</text>
<text transform="translate(380.3,46) scale(0.88,1)" class="dg dk">2</text>
<text transform="translate(380.3,50.88) scale(0.88,1)" class="dg dk">3</text>
<text transform="translate(380.3,55.77) scale(0.88,1)" class="dg dk">3</text>
<text transform="translate(380.3,60.66) scale(0.88,1)" class="dg dk">5</text>
<text transform="translate(380.3,65.55) scale(0.88,1)" class="dg dk">T</text>
<text transform="translate(380.3,70.43) scale(0.88,1)" class="dg dk">3</text>
<text transform="translate(380.3,75.32) scale(0.88,1)" class="dg dk">3</text>
<text transform="translate(380.3,80.21) scale(0.88,1)" class="dg dk">6</text>
<text transform="translate(380.3,85.09) scale(0.88,1)" class="dg dk">2</text>
<text transform="translate(380.3,89.98) scale(0.88,1)" class="dg dk">14</text>
<text transform="translate(380.3,94.87) scale(0.88,1)" class="dg dk">1</text>
<text transform="translate(380.3,99.75) scale(0.88,1)" class="dg">8</text>
<text transform="translate(380.3,104.64) scale(0.88,1)" class="dg">3</text>
<text transform="translate(380.3,109.53) scale(0.88,1)" class="dg">4</text>
<text transform="translate(380.3,114.42) scale(0.88,1)" class="dg">3</text>
<text transform="translate(389.2,26.45) scale(0.88,1)" class="dg">1</text>
<text transform="translate(389.2,31.34) scale(0.88,1)" class="dg">10</text>
<text transform="translate(389.2,36.22) scale(0.88,1)" class="dg">2</text>
<text transform="translate(389.2,41.11) scale(0.88,1)" class="dg">3</text>
<text transform="translate(389.2,46) scale(0.88,1)" class="dg dk">2</text>
<text transform="translate(389.2,50.88) scale(0.88,1)" class="dg dk">3</text>
<text transform="translate(389.2,55.77) scale(0.88,1)" class="dg dk">3</text>
<text transform="translate(389.2,60.66) scale(0.88,1)" class="dg dk">5</text>
<text transform="translate(389.2,65.55) scale(0.88,1)" class="dg dk">T</text>
<text transform="translate(389.2,70.43) scale(0.88,1)" class="dg dk">3</text>
<text transform="translate(389.2,75.32) scale(0.88,1)" class="dg dk">3</text>
<text transform="translate(389.2,80.21) scale(0.88,1)" class="dg dk">6</text>
<text transform="translate(389.2,85.09) scale(0.88,1)" class="dg dk">2</text>
<text transform="translate(389.2,89.98) scale(0.88,1)" class="dg dk">14</text>
<text transform="translate(389.2,94.87) scale(0.88,1)" class="dg dk">1</text>
<text transform="translate(389.2,99.75) scale(0.88,1)" class="dg">8</text>
<text transform="translate(389.2,104.64) scale(0.88,1)" class="dg">2</text>
<text transform="translate(389.2,109.53) scale(0.88,1)" class="dg">6</text>
<text transform="translate(389.2,114.42) scale(0.88,1)" class="dg">2</text>
<text transform="translate(401.3,26.45) scale(0.88,1)" class="dg">3</text>
<text transform="translate(401.3,31.34) scale(0.88,1)" class="dg">4</text>
<text transform="translate(401.3,36.22) scale(0.88,1)" class="dg">2</text>
<text transform="translate(401.3,41.11) scale(0.88,1)" class="dg">6</text>
<text transform="translate(401.3,46) scale(0.88,1)" class="dg dk">2</text>
<text transform="translate(401.3,50.88) scale(0.88,1)" class="dg dk">3</text>
<text transform="translate(401.3,55.77) scale(0.88,1)" class="dg dk">3</text>
<text transform="translate(401.3,60.66) scale(0.88,1)" class="dg dk">5</text>
<text transform="translate(401.3,65.55) scale(0.88,1)" class="dg dk">T</text>
<text transform="translate(401.3,70.43) scale(0.88,1)" class="dg dk">3</text>
<text transform="translate(401.3,75.32) scale(0.88,1)" class="dg dk">3</text>
<text transform="translate(401.3,80.21) scale(0.88,1)" class="dg dk">6</text>
<text transform="translate(401.3,85.09) scale(0.88,1)" class="dg dk">2</text>
<text transform="translate(401.3,89.98) scale(0.88,1)" class="dg dk">14</text>
<text transform="translate(401.3,94.87) scale(0.88,1)" class="dg dk">1</text>
<text transform="translate(401.3,99.75) scale(0.88,1)" class="dg">8</text>
<text transform="translate(401.3,104.64) scale(0.88,1)" class="dg">4</text>
<text transform="translate(401.3,109.53) scale(0.88,1)" class="dg">5</text>
<text transform="translate(401.3,114.42) scale(0.88,1)" class="dg">5</text>
<text transform="translate(410.2,26.45) scale(0.88,1)" class="dg">3</text>
<text transform="translate(410.2,31.34) scale(0.88,1)" class="dg">5</text>
<text transform="translate(410.2,36.22) scale(0.88,1)" class="dg">5</text>
<text transform="translate(410.2,41.11) scale(0.88,1)" class="dg">3</text>
<text transform="translate(410.2,46) scale(0.88,1)" class="dg dk">2</text>
<text transform="translate(410.2,50.88) scale(0.88,1)" class="dg dk">3</text>
<text transform="translate(410.2,55.77) scale(0.88,1)" class="dg dk">3</text>
<text transform="translate(410.2,60.66) scale(0.88,1)" class="dg dk">4</text>
<text transform="translate(410.2,65.55) scale(0.88,1)" class="dg dk">C</text>
<text transform="translate(410.2,70.43) scale(0.88,1)" class="dg dk">3</text>
<text transform="translate(410.2,75.32) scale(0.88,1)" class="dg dk">3</text>
<text transform="translate(410.2,80.21) scale(0.88,1)" class="dg dk">7</text>
<text transform="translate(410.2,85.09) scale(0.88,1)" class="dg dk">1</text>
<text transform="translate(410.2,89.98) scale(0.88,1)" class="dg dk">13</text>
<text transform="translate(410.2,94.87) scale(0.88,1)" class="dg dk">1</text>
<text transform="translate(410.2,99.75) scale(0.88,1)" class="dg">8</text>
<text transform="translate(410.2,104.64) scale(0.88,1)" class="dg">3</text>
<text transform="translate(410.2,109.53) scale(0.88,1)" class="dg">4</text>
<text transform="translate(410.2,114.42) scale(0.88,1)" class="dg">2</text>
<text transform="translate(421.3,26.45) scale(0.88,1)" class="dg">2</text>
<text transform="translate(421.3,31.34) scale(0.88,1)" class="dg">10</text>
<text transform="translate(421.3,36.22) scale(0.88,1)" class="dg">2</text>
<text transform="translate(421.3,41.11) scale(0.88,1)" class="dg">3</text>
<text transform="translate(421.3,46) scale(0.88,1)" class="dg">2</text>
<text transform="translate(421.3,50.88) scale(0.88,1)" class="dg">2</text>
<text transform="translate(421.3,55.77) scale(0.88,1)" class="dg dk">3</text>
<text transform="translate(421.3,60.66) scale(0.88,1)" class="dg dk">5</text>
<text transform="translate(421.3,65.55) scale(0.88,1)" class="dg dk">T</text>
<text transform="translate(421.3,70.43) scale(0.88,1)" class="dg dk">3</text>
<text transform="translate(421.3,75.32) scale(0.88,1)" class="dg">4</text>
<text transform="translate(421.3,80.21) scale(0.88,1)" class="dg">10</text>
<text transform="translate(421.3,85.09) scale(0.88,1)" class="dg">8</text>
<text transform="translate(421.3,89.98) scale(0.88,1)" class="dg">11</text>
<text transform="translate(421.3,94.87) scale(0.88,1)" class="dg">1</text>
<text transform="translate(421.3,99.75) scale(0.88,1)" class="dg">8</text>
<text transform="translate(421.3,104.64) scale(0.88,1)" class="dg">4</text>
<text transform="translate(421.3,109.53) scale(0.88,1)" class="dg">5</text>
<text transform="translate(421.3,114.42) scale(0.88,1)" class="dg">1</text>
<text transform="translate(430.2,26.45) scale(0.88,1)" class="dg">2</text>
<text transform="translate(430.2,31.34) scale(0.88,1)" class="dg">5</text>
<text transform="translate(430.2,36.22) scale(0.88,1)" class="dg">2</text>
<text transform="translate(430.2,41.11) scale(0.88,1)" class="dg">3</text>
<text transform="translate(430.2,46) scale(0.88,1)" class="dg dk">2</text>
<text transform="translate(430.2,50.88) scale(0.88,1)" class="dg dk">3</text>
<text transform="translate(430.2,55.77) scale(0.88,1)" class="dg dk">3</text>
<text transform="translate(430.2,60.66) scale(0.88,1)" class="dg dk">4</text>
<text transform="translate(430.2,65.55) scale(0.88,1)" class="dg dk">C</text>
<text transform="translate(430.2,70.43) scale(0.88,1)" class="dg dk">3</text>
<text transform="translate(430.2,75.32) scale(0.88,1)" class="dg dk">3</text>
<text transform="translate(430.2,80.21) scale(0.88,1)" class="dg dk">7</text>
<text transform="translate(430.2,85.09) scale(0.88,1)" class="dg dk">1</text>
<text transform="translate(430.2,89.98) scale(0.88,1)" class="dg dk">13</text>
<text transform="translate(430.2,94.87) scale(0.88,1)" class="dg dk">1</text>
<text transform="translate(430.2,99.75) scale(0.88,1)" class="dg">8</text>
<text transform="translate(430.2,104.64) scale(0.88,1)" class="dg">4</text>
<text transform="translate(430.2,109.53) scale(0.88,1)" class="dg">4</text>
<text transform="translate(430.2,114.42) scale(0.88,1)" class="dg">4</text>
<text x="223" y="136.9" class="hd">Marker</text>
<text x="276" y="136.8" class="hd">I</text>
<text x="296.7" y="136.8" class="hd">J:1</text>
<text x="317.7" y="136.8" class="hd">K</text>
<text x="337.5" y="136.8" class="hd">L</text>
<text x="359" y="136.8" class="hd">M</text>
<text x="378.6" y="136.8" class="hd">N</text>
<text x="399.6" y="136.8" class="hd">O:2</text>
<text x="420.6" y="136.8" class="hd">P</text>
<text x="441.2" y="136.8" class="hd">Q</text>
<text x="461.4" y="136.8" class="hd">R</text>
<text x="480" y="136.8" class="hd">F</text>
<text x="500.7" y="136.8" class="hd">G</text>
<text x="223" y="146.6" class="rl">D17S1606</text>
<text x="223" y="151.49" class="rl">D17S1807</text>
<text x="223" y="156.37" class="rl">D17S1535</text>
<text x="223" y="161.26" class="rl">D17S1301</text>
<text x="223" y="166.15" class="rl">AC15 AC087749</text>
<text x="223" y="171.03" class="rl">19GT AC087749</text>
<text x="223" y="175.92" class="rl">17TG AC087749</text>
<text x="223" y="180.81" class="rl">D17S1839</text>
<text x="223" y="185.7" class="rl">UNC13D c.118-308C>T</text>
<text x="223" y="190.58" class="rl">D17S1603</text>
<text x="223" y="195.47" class="rl">15TG_AC015801</text>
<text x="223" y="200.36" class="rl">21CA_AC090699</text>
<text x="223" y="205.24" class="rl">D17S785</text>
<text x="223" y="210.13" class="rl">D17S801</text>
<text x="223" y="215.02" class="rl">D17S2192</text>
<text x="223" y="219.91" class="rl">D17S937</text>
<text x="223" y="224.79" class="rl">D17S1847</text>
<text x="223" y="229.68" class="rl">D17S1822</text>
<text x="223" y="234.57" class="rl">D17S668</text>
<text transform="translate(276.7,151.04) scale(0.88,1)" class="dg">6</text>
<text transform="translate(276.7,155.92) scale(0.88,1)" class="dg">4</text>
<text transform="translate(276.7,160.81) scale(0.88,1)" class="dg">4</text>
<text transform="translate(276.7,165.7) scale(0.88,1)" class="dg dk">2</text>
<text transform="translate(276.7,170.59) scale(0.88,1)" class="dg dk">3</text>
<text transform="translate(276.7,175.47) scale(0.88,1)" class="dg dk">3</text>
<text transform="translate(276.7,180.36) scale(0.88,1)" class="dg dk">4</text>
<text transform="translate(276.7,185.25) scale(0.88,1)" class="dg dk">C</text>
<text transform="translate(276.7,190.13) scale(0.88,1)" class="dg dk">3</text>
<text transform="translate(276.7,195.02) scale(0.88,1)" class="dg dk">3</text>
<text transform="translate(276.7,199.91) scale(0.88,1)" class="dg dk">7</text>
<text transform="translate(276.7,204.79) scale(0.88,1)" class="dg dk">1</text>
<text transform="translate(276.7,209.68) scale(0.88,1)" class="dg dk">13</text>
<text transform="translate(276.7,214.57) scale(0.88,1)" class="dg dk">1</text>
<text transform="translate(276.7,219.46) scale(0.88,1)" class="dg">8</text>
<text transform="translate(276.7,224.34) scale(0.88,1)" class="dg">3</text>
<text transform="translate(276.7,229.23) scale(0.88,1)" class="dg">3</text>
<text transform="translate(276.7,234.12) scale(0.88,1)" class="dg">3</text>
<text transform="translate(285.6,151.04) scale(0.88,1)" class="dg">5</text>
<text transform="translate(285.6,155.92) scale(0.88,1)" class="dg">3</text>
<text transform="translate(285.6,160.81) scale(0.88,1)" class="dg">3</text>
<text transform="translate(285.6,165.7) scale(0.88,1)" class="dg">2</text>
<text transform="translate(285.6,170.59) scale(0.88,1)" class="dg">1</text>
<text transform="translate(285.6,175.47) scale(0.88,1)" class="dg">3</text>
<text transform="translate(285.6,180.36) scale(0.88,1)" class="dg">4</text>
<text transform="translate(285.6,185.25) scale(0.88,1)" class="dg">C</text>
<text transform="translate(285.6,190.13) scale(0.88,1)" class="dg">3</text>
<text transform="translate(285.6,195.02) scale(0.88,1)" class="dg">2</text>
<text transform="translate(285.6,199.91) scale(0.88,1)" class="dg">7</text>
<text transform="translate(285.6,204.79) scale(0.88,1)" class="dg">1</text>
<text transform="translate(285.6,209.68) scale(0.88,1)" class="dg">13</text>
<text transform="translate(285.6,214.57) scale(0.88,1)" class="dg">1</text>
<text transform="translate(285.6,219.46) scale(0.88,1)" class="dg">10</text>
<text transform="translate(285.6,224.34) scale(0.88,1)" class="dg">3</text>
<text transform="translate(285.6,229.23) scale(0.88,1)" class="dg">5</text>
<text transform="translate(285.6,234.12) scale(0.88,1)" class="dg">2</text>
<text transform="translate(298.4,146.15) scale(0.88,1)" class="dg dk">5</text>
<text transform="translate(298.4,151.04) scale(0.88,1)" class="dg dk">8</text>
<text transform="translate(298.4,155.92) scale(0.88,1)" class="dg dk">5</text>
<text transform="translate(298.4,160.81) scale(0.88,1)" class="dg dk">3</text>
<text transform="translate(298.4,165.7) scale(0.88,1)" class="dg dk">2</text>
<text transform="translate(298.4,170.59) scale(0.88,1)" class="dg dk">3</text>
<text transform="translate(298.4,175.47) scale(0.88,1)" class="dg dk">3</text>
<text transform="translate(298.4,180.36) scale(0.88,1)" class="dg dk">4</text>
<text transform="translate(298.4,185.25) scale(0.88,1)" class="dg dk">C</text>
<text transform="translate(298.4,190.13) scale(0.88,1)" class="dg dk">3</text>
<text transform="translate(298.4,195.02) scale(0.88,1)" class="dg dk">3</text>
<text transform="translate(298.4,199.91) scale(0.88,1)" class="dg dk">7</text>
<text transform="translate(298.4,204.79) scale(0.88,1)" class="dg dk">1</text>
<text transform="translate(298.4,209.68) scale(0.88,1)" class="dg dk">13</text>
<text transform="translate(298.4,214.57) scale(0.88,1)" class="dg dk">1</text>
<text transform="translate(298.4,219.46) scale(0.88,1)" class="dg">11</text>
<text transform="translate(298.4,224.34) scale(0.88,1)" class="dg">5</text>
<text transform="translate(298.4,229.23) scale(0.88,1)" class="dg">4</text>
<text transform="translate(298.4,234.12) scale(0.88,1)" class="dg">6</text>
<text transform="translate(307.3,146.15) scale(0.88,1)" class="dg">3</text>
<text transform="translate(307.3,151.04) scale(0.88,1)" class="dg">4</text>
<text transform="translate(307.3,155.92) scale(0.88,1)" class="dg">2</text>
<text transform="translate(307.3,160.81) scale(0.88,1)" class="dg dk">3</text>
<text transform="translate(307.3,165.7) scale(0.88,1)" class="dg dk">2</text>
<text transform="translate(307.3,170.59) scale(0.88,1)" class="dg dk">3</text>
<text transform="translate(307.3,175.47) scale(0.88,1)" class="dg dk">3</text>
<text transform="translate(307.3,180.36) scale(0.88,1)" class="dg dk">4</text>
<text transform="translate(307.3,185.25) scale(0.88,1)" class="dg dk">C</text>
<text transform="translate(307.3,190.13) scale(0.88,1)" class="dg dk">3</text>
<text transform="translate(307.3,195.02) scale(0.88,1)" class="dg dk">3</text>
<text transform="translate(307.3,199.91) scale(0.88,1)" class="dg dk">7</text>
<text transform="translate(307.3,204.79) scale(0.88,1)" class="dg dk">1</text>
<text transform="translate(307.3,209.68) scale(0.88,1)" class="dg dk">13</text>
<text transform="translate(307.3,214.57) scale(0.88,1)" class="dg dk">1</text>
<text transform="translate(307.3,219.46) scale(0.88,1)" class="dg">4</text>
<text transform="translate(307.3,224.34) scale(0.88,1)" class="dg">3</text>
<text transform="translate(307.3,229.23) scale(0.88,1)" class="dg">1</text>
<text transform="translate(307.3,234.12) scale(0.88,1)" class="dg">8</text>
<text transform="translate(319.4,146.15) scale(0.88,1)" class="dg">3</text>
<text transform="translate(319.4,151.04) scale(0.88,1)" class="dg">7</text>
<text transform="translate(319.4,155.92) scale(0.88,1)" class="dg">4</text>
<text transform="translate(319.4,160.81) scale(0.88,1)" class="dg dk">3</text>
<text transform="translate(319.4,165.7) scale(0.88,1)" class="dg dk">2</text>
<text transform="translate(319.4,170.59) scale(0.88,1)" class="dg dk">3</text>
<text transform="translate(319.4,175.47) scale(0.88,1)" class="dg dk">3</text>
<text transform="translate(319.4,180.36) scale(0.88,1)" class="dg dk">4</text>
<text transform="translate(319.4,185.25) scale(0.88,1)" class="dg dk">C</text>
<text transform="translate(319.4,190.13) scale(0.88,1)" class="dg dk">3</text>
<text transform="translate(319.4,195.02) scale(0.88,1)" class="dg dk">3</text>
<text transform="translate(319.4,199.91) scale(0.88,1)" class="dg dk">7</text>
<text transform="translate(319.4,204.79) scale(0.88,1)" class="dg dk">1</text>
<text transform="translate(319.4,209.68) scale(0.88,1)" class="dg dk">13</text>
<text transform="translate(319.4,214.57) scale(0.88,1)" class="dg dk">1</text>
<text transform="translate(319.4,219.46) scale(0.88,1)" class="dg">4</text>
<text transform="translate(319.4,224.34) scale(0.88,1)" class="dg">2</text>
<text transform="translate(319.4,229.23) scale(0.88,1)" class="dg">4</text>
<text transform="translate(319.4,234.12) scale(0.88,1)" class="dg">4</text>
<text transform="translate(328.3,146.15) scale(0.88,1)" class="dg dk">5</text>
<text transform="translate(328.3,151.04) scale(0.88,1)" class="dg dk">8</text>
<text transform="translate(328.3,155.92) scale(0.88,1)" class="dg dk">5</text>
<text transform="translate(328.3,160.81) scale(0.88,1)" class="dg dk">3</text>
<text transform="translate(328.3,165.7) scale(0.88,1)" class="dg dk">2</text>
<text transform="translate(328.3,170.59) scale(0.88,1)" class="dg dk">3</text>
<text transform="translate(328.3,175.47) scale(0.88,1)" class="dg dk">3</text>
<text transform="translate(328.3,180.36) scale(0.88,1)" class="dg dk">4</text>
<text transform="translate(328.3,185.25) scale(0.88,1)" class="dg dk">C</text>
<text transform="translate(328.3,190.13) scale(0.88,1)" class="dg">5</text>
<text transform="translate(328.3,195.02) scale(0.88,1)" class="dg">2</text>
<text transform="translate(328.3,199.91) scale(0.88,1)" class="dg">7</text>
<text transform="translate(328.3,204.79) scale(0.88,1)" class="dg">5</text>
<text transform="translate(328.3,209.68) scale(0.88,1)" class="dg">13</text>
<text transform="translate(328.3,214.57) scale(0.88,1)" class="dg">1</text>
<text transform="translate(328.3,219.46) scale(0.88,1)" class="dg">4</text>
<text transform="translate(328.3,224.34) scale(0.88,1)" class="dg">4</text>
<text transform="translate(328.3,229.23) scale(0.88,1)" class="dg">4</text>
<text transform="translate(328.3,234.12) scale(0.88,1)" class="dg">4</text>
<text transform="translate(339.2,146.15) scale(0.88,1)" class="dg">3</text>
<text transform="translate(339.2,151.04) scale(0.88,1)" class="dg">8</text>
<text transform="translate(339.2,155.92) scale(0.88,1)" class="dg">4</text>
<text transform="translate(339.2,160.81) scale(0.88,1)" class="dg dk">3</text>
<text transform="translate(339.2,165.7) scale(0.88,1)" class="dg dk">2</text>
<text transform="translate(339.2,170.59) scale(0.88,1)" class="dg dk">3</text>
<text transform="translate(339.2,175.47) scale(0.88,1)" class="dg dk">3</text>
<text transform="translate(339.2,180.36) scale(0.88,1)" class="dg dk">4</text>
<text transform="translate(339.2,185.25) scale(0.88,1)" class="dg dk">C</text>
<text transform="translate(339.2,190.13) scale(0.88,1)" class="dg dk">3</text>
<text transform="translate(339.2,195.02) scale(0.88,1)" class="dg dk">3</text>
<text transform="translate(339.2,199.91) scale(0.88,1)" class="dg dk">7</text>
<text transform="translate(339.2,204.79) scale(0.88,1)" class="dg dk">1</text>
<text transform="translate(339.2,209.68) scale(0.88,1)" class="dg dk">13</text>
<text transform="translate(339.2,214.57) scale(0.88,1)" class="dg dk">1</text>
<text transform="translate(339.2,219.46) scale(0.88,1)" class="dg">8</text>
<text transform="translate(339.2,224.34) scale(0.88,1)" class="dg">3</text>
<text transform="translate(339.2,229.23) scale(0.88,1)" class="dg">6</text>
<text transform="translate(339.2,234.12) scale(0.88,1)" class="dg">3</text>
<text transform="translate(348.1,146.15) scale(0.88,1)" class="dg">3</text>
<text transform="translate(348.1,151.04) scale(0.88,1)" class="dg">1</text>
<text transform="translate(348.1,155.92) scale(0.88,1)" class="dg">2</text>
<text transform="translate(348.1,160.81) scale(0.88,1)" class="dg dk">3</text>
<text transform="translate(348.1,165.7) scale(0.88,1)" class="dg dk">2</text>
<text transform="translate(348.1,170.59) scale(0.88,1)" class="dg dk">3</text>
<text transform="translate(348.1,175.47) scale(0.88,1)" class="dg dk">3</text>
<text transform="translate(348.1,180.36) scale(0.88,1)" class="dg dk">4</text>
<text transform="translate(348.1,185.25) scale(0.88,1)" class="dg dk">C</text>
<text transform="translate(348.1,190.13) scale(0.88,1)" class="dg dk">3</text>
<text transform="translate(348.1,195.02) scale(0.88,1)" class="dg dk">3</text>
<text transform="translate(348.1,199.91) scale(0.88,1)" class="dg dk">7</text>
<text transform="translate(348.1,204.79) scale(0.88,1)" class="dg dk">1</text>
<text transform="translate(348.1,209.68) scale(0.88,1)" class="dg dk">13</text>
<text transform="translate(348.1,214.57) scale(0.88,1)" class="dg dk">1</text>
<text transform="translate(348.1,219.46) scale(0.88,1)" class="dg">7</text>
<text transform="translate(348.1,224.34) scale(0.88,1)" class="dg">3</text>
<text transform="translate(348.1,229.23) scale(0.88,1)" class="dg">2</text>
<text transform="translate(348.1,234.12) scale(0.88,1)" class="dg">5</text>
<text transform="translate(360.7,146.15) scale(0.88,1)" class="dg">3</text>
<text transform="translate(360.7,151.04) scale(0.88,1)" class="dg">9</text>
<text transform="translate(360.7,155.92) scale(0.88,1)" class="dg">6</text>
<text transform="translate(360.7,160.81) scale(0.88,1)" class="dg dk">3</text>
<text transform="translate(360.7,165.7) scale(0.88,1)" class="dg dk">2</text>
<text transform="translate(360.7,170.59) scale(0.88,1)" class="dg dk">3</text>
<text transform="translate(360.7,175.47) scale(0.88,1)" class="dg dk">3</text>
<text transform="translate(360.7,180.36) scale(0.88,1)" class="dg dk">4</text>
<text transform="translate(360.7,185.25) scale(0.88,1)" class="dg dk">C</text>
<text transform="translate(360.7,190.13) scale(0.88,1)" class="dg">3</text>
<text transform="translate(360.7,195.02) scale(0.88,1)" class="dg">2</text>
<text transform="translate(360.7,199.91) scale(0.88,1)" class="dg">1</text>
<text transform="translate(360.7,204.79) scale(0.88,1)" class="dg">1</text>
<text transform="translate(360.7,209.68) scale(0.88,1)" class="dg">4</text>
<text transform="translate(360.7,214.57) scale(0.88,1)" class="dg">2</text>
<text transform="translate(360.7,219.46) scale(0.88,1)" class="dg">9</text>
<text transform="translate(360.7,224.34) scale(0.88,1)" class="dg">4</text>
<text transform="translate(360.7,229.23) scale(0.88,1)" class="dg">4</text>
<text transform="translate(360.7,234.12) scale(0.88,1)" class="dg">4</text>
<text transform="translate(369.6,146.15) scale(0.88,1)" class="dg dk">5</text>
<text transform="translate(369.6,151.04) scale(0.88,1)" class="dg dk">8</text>
<text transform="translate(369.6,155.92) scale(0.88,1)" class="dg dk">5</text>
<text transform="translate(369.6,160.81) scale(0.88,1)" class="dg dk">3</text>
<text transform="translate(369.6,165.7) scale(0.88,1)" class="dg dk">2</text>
<text transform="translate(369.6,170.59) scale(0.88,1)" class="dg dk">3</text>
<text transform="translate(369.6,175.47) scale(0.88,1)" class="dg dk">3</text>
<text transform="translate(369.6,180.36) scale(0.88,1)" class="dg dk">4</text>
<text transform="translate(369.6,185.25) scale(0.88,1)" class="dg dk">C</text>
<text transform="translate(369.6,190.13) scale(0.88,1)" class="dg dk">3</text>
<text transform="translate(369.6,195.02) scale(0.88,1)" class="dg dk">3</text>
<text transform="translate(369.6,199.91) scale(0.88,1)" class="dg dk">7</text>
<text transform="translate(369.6,204.79) scale(0.88,1)" class="dg dk">1</text>
<text transform="translate(369.6,209.68) scale(0.88,1)" class="dg dk">13</text>
<text transform="translate(369.6,214.57) scale(0.88,1)" class="dg">3</text>
<text transform="translate(369.6,219.46) scale(0.88,1)" class="dg">10</text>
<text transform="translate(369.6,224.34) scale(0.88,1)" class="dg">2</text>
<text transform="translate(369.6,229.23) scale(0.88,1)" class="dg">5</text>
<text transform="translate(369.6,234.12) scale(0.88,1)" class="dg">1</text>
<text transform="translate(380.3,146.15) scale(0.88,1)" class="dg">1</text>
<text transform="translate(380.3,151.04) scale(0.88,1)" class="dg">4</text>
<text transform="translate(380.3,155.92) scale(0.88,1)" class="dg">2</text>
<text transform="translate(380.3,160.81) scale(0.88,1)" class="dg">3</text>
<text transform="translate(380.3,165.7) scale(0.88,1)" class="dg dk">2</text>
<text transform="translate(380.3,170.59) scale(0.88,1)" class="dg dk">3</text>
<text transform="translate(380.3,175.47) scale(0.88,1)" class="dg dk">3</text>
<text transform="translate(380.3,180.36) scale(0.88,1)" class="dg dk">4</text>
<text transform="translate(380.3,185.25) scale(0.88,1)" class="dg dk">C</text>
<text transform="translate(380.3,190.13) scale(0.88,1)" class="dg dk">3</text>
<text transform="translate(380.3,195.02) scale(0.88,1)" class="dg dk">3</text>
<text transform="translate(380.3,199.91) scale(0.88,1)" class="dg dk">7</text>
<text transform="translate(380.3,204.79) scale(0.88,1)" class="dg dk">1</text>
<text transform="translate(380.3,209.68) scale(0.88,1)" class="dg dk">13</text>
<text transform="translate(380.3,214.57) scale(0.88,1)" class="dg dk">1</text>
<text transform="translate(380.3,219.46) scale(0.88,1)" class="dg">8</text>
<text transform="translate(380.3,224.34) scale(0.88,1)" class="dg">3</text>
<text transform="translate(380.3,229.23) scale(0.88,1)" class="dg">4</text>
<text transform="translate(380.3,234.12) scale(0.88,1)" class="dg">4</text>
<text transform="translate(389.2,146.15) scale(0.88,1)" class="dg">3</text>
<text transform="translate(389.2,151.04) scale(0.88,1)" class="dg">4</text>
<text transform="translate(389.2,155.92) scale(0.88,1)" class="dg">2</text>
<text transform="translate(389.2,160.81) scale(0.88,1)" class="dg dk">3</text>
<text transform="translate(389.2,165.7) scale(0.88,1)" class="dg dk">2</text>
<text transform="translate(389.2,170.59) scale(0.88,1)" class="dg dk">3</text>
<text transform="translate(389.2,175.47) scale(0.88,1)" class="dg dk">3</text>
<text transform="translate(389.2,180.36) scale(0.88,1)" class="dg dk">4</text>
<text transform="translate(389.2,185.25) scale(0.88,1)" class="dg dk">C</text>
<text transform="translate(389.2,190.13) scale(0.88,1)" class="dg dk">3</text>
<text transform="translate(389.2,195.02) scale(0.88,1)" class="dg dk">3</text>
<text transform="translate(389.2,199.91) scale(0.88,1)" class="dg dk">7</text>
<text transform="translate(389.2,204.79) scale(0.88,1)" class="dg dk">1</text>
<text transform="translate(389.2,209.68) scale(0.88,1)" class="dg dk">13</text>
<text transform="translate(389.2,214.57) scale(0.88,1)" class="dg dk">1</text>
<text transform="translate(389.2,219.46) scale(0.88,1)" class="dg">8</text>
<text transform="translate(389.2,224.34) scale(0.88,1)" class="dg">4</text>
<text transform="translate(389.2,229.23) scale(0.88,1)" class="dg">1</text>
<text transform="translate(389.2,234.12) scale(0.88,1)" class="dg">3</text>
<text transform="translate(401.3,146.15) scale(0.88,1)" class="dg dk">5</text>
<text transform="translate(401.3,151.04) scale(0.88,1)" class="dg dk">8</text>
<text transform="translate(401.3,155.92) scale(0.88,1)" class="dg dk">5</text>
<text transform="translate(401.3,160.81) scale(0.88,1)" class="dg dk">3</text>
<text transform="translate(401.3,165.7) scale(0.88,1)" class="dg dk">2</text>
<text transform="translate(401.3,170.59) scale(0.88,1)" class="dg dk">3</text>
<text transform="translate(401.3,175.47) scale(0.88,1)" class="dg dk">3</text>
<text transform="translate(401.3,180.36) scale(0.88,1)" class="dg dk">4</text>
<text transform="translate(401.3,185.25) scale(0.88,1)" class="dg dk">C</text>
<text transform="translate(401.3,190.13) scale(0.88,1)" class="dg dk">3</text>
<text transform="translate(401.3,195.02) scale(0.88,1)" class="dg dk">3</text>
<text transform="translate(401.3,199.91) scale(0.88,1)" class="dg dk">7</text>
<text transform="translate(401.3,204.79) scale(0.88,1)" class="dg dk">1</text>
<text transform="translate(401.3,209.68) scale(0.88,1)" class="dg dk">13</text>
<text transform="translate(401.3,214.57) scale(0.88,1)" class="dg dk">1</text>
<text transform="translate(401.3,219.46) scale(0.88,1)" class="dg">6</text>
<text transform="translate(401.3,224.34) scale(0.88,1)" class="dg">2</text>
<text transform="translate(401.3,229.23) scale(0.88,1)" class="dg">6</text>
<text transform="translate(401.3,234.12) scale(0.88,1)" class="dg">1</text>
<text transform="translate(410.2,146.15) scale(0.88,1)" class="dg">2</text>
<text transform="translate(410.2,151.04) scale(0.88,1)" class="dg">5</text>
<text transform="translate(410.2,155.92) scale(0.88,1)" class="dg">4</text>
<text transform="translate(410.2,160.81) scale(0.88,1)" class="dg dk">3</text>
<text transform="translate(410.2,165.7) scale(0.88,1)" class="dg dk">2</text>
<text transform="translate(410.2,170.59) scale(0.88,1)" class="dg dk">3</text>
<text transform="translate(410.2,175.47) scale(0.88,1)" class="dg dk">3</text>
<text transform="translate(410.2,180.36) scale(0.88,1)" class="dg dk">4</text>
<text transform="translate(410.2,185.25) scale(0.88,1)" class="dg dk">C</text>
<text transform="translate(410.2,190.13) scale(0.88,1)" class="dg dk">3</text>
<text transform="translate(410.2,195.02) scale(0.88,1)" class="dg dk">3</text>
<text transform="translate(410.2,199.91) scale(0.88,1)" class="dg">7</text>
<text transform="translate(410.2,204.79) scale(0.88,1)" class="dg">3</text>
<text transform="translate(410.2,209.68) scale(0.88,1)" class="dg">9</text>
<text transform="translate(410.2,214.57) scale(0.88,1)" class="dg">1</text>
<text transform="translate(410.2,219.46) scale(0.88,1)" class="dg">8</text>
<text transform="translate(410.2,224.34) scale(0.88,1)" class="dg">5</text>
<text transform="translate(410.2,229.23) scale(0.88,1)" class="dg">5</text>
<text transform="translate(410.2,234.12) scale(0.88,1)" class="dg">2</text>
<text transform="translate(422.3,146.15) scale(0.88,1)" class="dg">3</text>
<text transform="translate(422.3,151.04) scale(0.88,1)" class="dg">11</text>
<text transform="translate(422.3,155.92) scale(0.88,1)" class="dg">2</text>
<text transform="translate(422.3,160.81) scale(0.88,1)" class="dg">1</text>
<text transform="translate(422.3,165.7) scale(0.88,1)" class="dg dk">2</text>
<text transform="translate(422.3,170.59) scale(0.88,1)" class="dg dk">3</text>
<text transform="translate(422.3,175.47) scale(0.88,1)" class="dg dk">3</text>
<text transform="translate(422.3,180.36) scale(0.88,1)" class="dg dk">4</text>
<text transform="translate(422.3,185.25) scale(0.88,1)" class="dg dk">C</text>
<text transform="translate(422.3,190.13) scale(0.88,1)" class="dg dk">3</text>
<text transform="translate(422.3,195.02) scale(0.88,1)" class="dg">4</text>
<text transform="translate(422.3,199.91) scale(0.88,1)" class="dg">6</text>
<text transform="translate(422.3,204.79) scale(0.88,1)" class="dg">3</text>
<text transform="translate(422.3,209.68) scale(0.88,1)" class="dg">4</text>
<text transform="translate(422.3,214.57) scale(0.88,1)" class="dg">1</text>
<text transform="translate(422.3,219.46) scale(0.88,1)" class="dg">2</text>
<text transform="translate(422.3,224.34) scale(0.88,1)" class="dg">3</text>
<text transform="translate(422.3,229.23) scale(0.88,1)" class="dg">5</text>
<text transform="translate(422.3,234.12) scale(0.88,1)" class="dg">2</text>
<text transform="translate(431.2,146.15) scale(0.88,1)" class="dg">4</text>
<text transform="translate(431.2,151.04) scale(0.88,1)" class="dg">9</text>
<text transform="translate(431.2,155.92) scale(0.88,1)" class="dg">2</text>
<text transform="translate(431.2,160.81) scale(0.88,1)" class="dg">1</text>
<text transform="translate(431.2,165.7) scale(0.88,1)" class="dg dk">2</text>
<text transform="translate(431.2,170.59) scale(0.88,1)" class="dg dk">3</text>
<text transform="translate(431.2,175.47) scale(0.88,1)" class="dg dk">3</text>
<text transform="translate(431.2,180.36) scale(0.88,1)" class="dg dk">4</text>
<text transform="translate(431.2,185.25) scale(0.88,1)" class="dg dk">C</text>
<text transform="translate(431.2,190.13) scale(0.88,1)" class="dg dk">3</text>
<text transform="translate(431.2,195.02) scale(0.88,1)" class="dg">2</text>
<text transform="translate(431.2,199.91) scale(0.88,1)" class="dg">1</text>
<text transform="translate(431.2,204.79) scale(0.88,1)" class="dg">7</text>
<text transform="translate(431.2,209.68) scale(0.88,1)" class="dg">8</text>
<text transform="translate(431.2,214.57) scale(0.88,1)" class="dg">1</text>
<text transform="translate(431.2,219.46) scale(0.88,1)" class="dg">9</text>
<text transform="translate(431.2,224.34) scale(0.88,1)" class="dg">4</text>
<text transform="translate(431.2,229.23) scale(0.88,1)" class="dg">1</text>
<text transform="translate(431.2,234.12) scale(0.88,1)" class="dg">5</text>
<text transform="translate(442.9,146.15) scale(0.88,1)" class="dg">2</text>
<text transform="translate(442.9,151.04) scale(0.88,1)" class="dg">9</text>
<text transform="translate(442.9,155.92) scale(0.88,1)" class="dg">3</text>
<text transform="translate(442.9,160.81) scale(0.88,1)" class="dg dk">3</text>
<text transform="translate(442.9,165.7) scale(0.88,1)" class="dg dk">2</text>
<text transform="translate(442.9,170.59) scale(0.88,1)" class="dg dk">3</text>
<text transform="translate(442.9,175.47) scale(0.88,1)" class="dg dk">3</text>
<text transform="translate(442.9,180.36) scale(0.88,1)" class="dg dk">4</text>
<text transform="translate(442.9,185.25) scale(0.88,1)" class="dg dk">C</text>
<text transform="translate(442.9,190.13) scale(0.88,1)" class="dg">5</text>
<text transform="translate(442.9,195.02) scale(0.88,1)" class="dg">2</text>
<text transform="translate(442.9,199.91) scale(0.88,1)" class="dg">7</text>
<text transform="translate(442.9,204.79) scale(0.88,1)" class="dg">5</text>
<text transform="translate(442.9,209.68) scale(0.88,1)" class="dg">13</text>
<text transform="translate(442.9,214.57) scale(0.88,1)" class="dg">1</text>
<text transform="translate(442.9,219.46) scale(0.88,1)" class="dg">9</text>
<text transform="translate(442.9,224.34) scale(0.88,1)" class="dg">4</text>
<text transform="translate(442.9,229.23) scale(0.88,1)" class="dg">4</text>
<text transform="translate(442.9,234.12) scale(0.88,1)" class="dg">6</text>
<text transform="translate(451.8,146.15) scale(0.88,1)" class="dg dk">5</text>
<text transform="translate(451.8,151.04) scale(0.88,1)" class="dg dk">8</text>
<text transform="translate(451.8,155.92) scale(0.88,1)" class="dg dk">5</text>
<text transform="translate(451.8,160.81) scale(0.88,1)" class="dg dk">3</text>
<text transform="translate(451.8,165.7) scale(0.88,1)" class="dg dk">2</text>
<text transform="translate(451.8,170.59) scale(0.88,1)" class="dg dk">3</text>
<text transform="translate(451.8,175.47) scale(0.88,1)" class="dg dk">3</text>
<text transform="translate(451.8,180.36) scale(0.88,1)" class="dg dk">4</text>
<text transform="translate(451.8,185.25) scale(0.88,1)" class="dg dk">C</text>
<text transform="translate(451.8,190.13) scale(0.88,1)" class="dg dk">3</text>
<text transform="translate(451.8,195.02) scale(0.88,1)" class="dg dk">3</text>
<text transform="translate(451.8,199.91) scale(0.88,1)" class="dg dk">7</text>
<text transform="translate(451.8,204.79) scale(0.88,1)" class="dg dk">1</text>
<text transform="translate(451.8,209.68) scale(0.88,1)" class="dg dk">13</text>
<text transform="translate(451.8,214.57) scale(0.88,1)" class="dg dk">1</text>
<text transform="translate(451.8,219.46) scale(0.88,1)" class="dg">8</text>
<text transform="translate(451.8,224.34) scale(0.88,1)" class="dg">3</text>
<text transform="translate(451.8,229.23) scale(0.88,1)" class="dg">1</text>
<text transform="translate(451.8,234.12) scale(0.88,1)" class="dg">3</text>
<text transform="translate(463.1,151.04) scale(0.88,1)" class="dg dk">8</text>
<text transform="translate(463.1,155.92) scale(0.88,1)" class="dg dk">5</text>
<text transform="translate(463.1,160.81) scale(0.88,1)" class="dg dk">3</text>
<text transform="translate(463.1,165.7) scale(0.88,1)" class="dg dk">2</text>
<text transform="translate(463.1,170.59) scale(0.88,1)" class="dg dk">3</text>
<text transform="translate(463.1,175.47) scale(0.88,1)" class="dg dk">3</text>
<text transform="translate(463.1,180.36) scale(0.88,1)" class="dg dk">4</text>
<text transform="translate(463.1,185.25) scale(0.88,1)" class="dg dk">C</text>
<text transform="translate(463.1,190.13) scale(0.88,1)" class="dg dk">3</text>
<text transform="translate(463.1,195.02) scale(0.88,1)" class="dg dk">3</text>
<text transform="translate(463.1,199.91) scale(0.88,1)" class="dg dk">7</text>
<text transform="translate(463.1,204.79) scale(0.88,1)" class="dg dk">1</text>
<text transform="translate(463.1,209.68) scale(0.88,1)" class="dg dk">13</text>
<text transform="translate(463.1,214.57) scale(0.88,1)" class="dg dk">1</text>
<text transform="translate(463.1,219.46) scale(0.88,1)" class="dg">8</text>
<text transform="translate(463.1,224.34) scale(0.88,1)" class="dg">3</text>
<text transform="translate(463.1,229.23) scale(0.88,1)" class="dg">4</text>
<text transform="translate(463.1,234.12) scale(0.88,1)" class="dg">3</text>
<text transform="translate(472,151.04) scale(0.88,1)" class="dg">9</text>
<text transform="translate(472,155.92) scale(0.88,1)" class="dg">3</text>
<text transform="translate(472,160.81) scale(0.88,1)" class="dg">7</text>
<text transform="translate(472,165.7) scale(0.88,1)" class="dg dk">2</text>
<text transform="translate(472,170.59) scale(0.88,1)" class="dg dk">3</text>
<text transform="translate(472,175.47) scale(0.88,1)" class="dg dk">3</text>
<text transform="translate(472,180.36) scale(0.88,1)" class="dg dk">4</text>
<text transform="translate(472,185.25) scale(0.88,1)" class="dg dk">C</text>
<text transform="translate(472,190.13) scale(0.88,1)" class="dg dk">3</text>
<text transform="translate(472,195.02) scale(0.88,1)" class="dg dk">3</text>
<text transform="translate(472,199.91) scale(0.88,1)" class="dg dk">7</text>
<text transform="translate(472,204.79) scale(0.88,1)" class="dg dk">1</text>
<text transform="translate(472,209.68) scale(0.88,1)" class="dg dk">13</text>
<text transform="translate(472,214.57) scale(0.88,1)" class="dg dk">1</text>
<text transform="translate(472,219.46) scale(0.88,1)" class="dg">4</text>
<text transform="translate(472,224.34) scale(0.88,1)" class="dg">3</text>
<text transform="translate(472,229.23) scale(0.88,1)" class="dg">4</text>
<text transform="translate(472,234.12) scale(0.88,1)" class="dg">5</text>
<text transform="translate(481.7,146.15) scale(0.88,1)" class="dg">3</text>
<text transform="translate(481.7,151.04) scale(0.88,1)" class="dg">4</text>
<text transform="translate(481.7,155.92) scale(0.88,1)" class="dg">2</text>
<text transform="translate(481.7,160.81) scale(0.88,1)" class="dg">4</text>
<text transform="translate(481.7,165.7) scale(0.88,1)" class="dg dk">2</text>
<text transform="translate(481.7,170.59) scale(0.88,1)" class="dg dk">3</text>
<text transform="translate(481.7,175.47) scale(0.88,1)" class="dg dk">3</text>
<text transform="translate(481.7,180.36) scale(0.88,1)" class="dg dk">5</text>
<text transform="translate(481.7,185.25) scale(0.88,1)" class="dg dk">T</text>
<text transform="translate(481.7,190.13) scale(0.88,1)" class="dg dk">3</text>
<text transform="translate(481.7,195.02) scale(0.88,1)" class="dg dk">3</text>
<text transform="translate(481.7,199.91) scale(0.88,1)" class="dg dk">6</text>
<text transform="translate(481.7,204.79) scale(0.88,1)" class="dg dk">2</text>
<text transform="translate(481.7,209.68) scale(0.88,1)" class="dg dk">14</text>
<text transform="translate(481.7,214.57) scale(0.88,1)" class="dg dk">1</text>
<text transform="translate(481.7,219.46) scale(0.88,1)" class="dg">8</text>
<text transform="translate(481.7,224.34) scale(0.88,1)" class="dg">4</text>
<text transform="translate(481.7,229.23) scale(0.88,1)" class="dg">5</text>
<text transform="translate(481.7,234.12) scale(0.88,1)" class="dg">5</text>
<text transform="translate(490.6,146.15) scale(0.88,1)" class="dg">3</text>
<text transform="translate(490.6,151.04) scale(0.88,1)" class="dg">5</text>
<text transform="translate(490.6,155.92) scale(0.88,1)" class="dg">5</text>
<text transform="translate(490.6,160.81) scale(0.88,1)" class="dg">3</text>
<text transform="translate(490.6,165.7) scale(0.88,1)" class="dg dk">2</text>
<text transform="translate(490.6,170.59) scale(0.88,1)" class="dg dk">3</text>
<text transform="translate(490.6,175.47) scale(0.88,1)" class="dg dk">3</text>
<text transform="translate(490.6,180.36) scale(0.88,1)" class="dg dk">4</text>
<text transform="translate(490.6,185.25) scale(0.88,1)" class="dg dk">C</text>
<text transform="translate(490.6,190.13) scale(0.88,1)" class="dg dk">3</text>
<text transform="translate(490.6,195.02) scale(0.88,1)" class="dg dk">3</text>
<text transform="translate(490.6,199.91) scale(0.88,1)" class="dg dk">7</text>
<text transform="translate(490.6,204.79) scale(0.88,1)" class="dg dk">1</text>
<text transform="translate(490.6,209.68) scale(0.88,1)" class="dg dk">13</text>
<text transform="translate(490.6,214.57) scale(0.88,1)" class="dg dk">1</text>
<text transform="translate(490.6,219.46) scale(0.88,1)" class="dg">8</text>
<text transform="translate(490.6,224.34) scale(0.88,1)" class="dg">3</text>
<text transform="translate(490.6,229.23) scale(0.88,1)" class="dg">4</text>
<text transform="translate(490.6,234.12) scale(0.88,1)" class="dg">2</text>
<text transform="translate(502.4,146.15) scale(0.88,1)" class="dg">2</text>
<text transform="translate(502.4,151.04) scale(0.88,1)" class="dg">10</text>
<text transform="translate(502.4,155.92) scale(0.88,1)" class="dg">2</text>
<text transform="translate(502.4,160.81) scale(0.88,1)" class="dg">3</text>
<text transform="translate(502.4,165.7) scale(0.88,1)" class="dg">2</text>
<text transform="translate(502.4,170.59) scale(0.88,1)" class="dg">2</text>
<text transform="translate(502.4,175.47) scale(0.88,1)" class="dg dk">3</text>
<text transform="translate(502.4,180.36) scale(0.88,1)" class="dg dk">5</text>
<text transform="translate(502.4,185.25) scale(0.88,1)" class="dg dk">T</text>
<text transform="translate(502.4,190.13) scale(0.88,1)" class="dg dk">3</text>
<text transform="translate(502.4,195.02) scale(0.88,1)" class="dg">4</text>
<text transform="translate(502.4,199.91) scale(0.88,1)" class="dg">10</text>
<text transform="translate(502.4,204.79) scale(0.88,1)" class="dg">8</text>
<text transform="translate(502.4,209.68) scale(0.88,1)" class="dg">11</text>
<text transform="translate(502.4,214.57) scale(0.88,1)" class="dg">1</text>
<text transform="translate(502.4,219.46) scale(0.88,1)" class="dg">8</text>
<text transform="translate(502.4,224.34) scale(0.88,1)" class="dg">4</text>
<text transform="translate(502.4,229.23) scale(0.88,1)" class="dg">5</text>
<text transform="translate(502.4,234.12) scale(0.88,1)" class="dg">1</text>
<text transform="translate(511.3,146.15) scale(0.88,1)" class="dg">2</text>
<text transform="translate(511.3,151.04) scale(0.88,1)" class="dg">5</text>
<text transform="translate(511.3,155.92) scale(0.88,1)" class="dg">2</text>
<text transform="translate(511.3,160.81) scale(0.88,1)" class="dg">3</text>
<text transform="translate(511.3,165.7) scale(0.88,1)" class="dg dk">2</text>
<text transform="translate(511.3,170.59) scale(0.88,1)" class="dg dk">3</text>
<text transform="translate(511.3,175.47) scale(0.88,1)" class="dg dk">3</text>
<text transform="translate(511.3,180.36) scale(0.88,1)" class="dg dk">4</text>
<text transform="translate(511.3,185.25) scale(0.88,1)" class="dg dk">C</text>
<text transform="translate(511.3,190.13) scale(0.88,1)" class="dg dk">3</text>
<text transform="translate(511.3,195.02) scale(0.88,1)" class="dg dk">3</text>
<text transform="translate(511.3,199.91) scale(0.88,1)" class="dg dk">7</text>
<text transform="translate(511.3,204.79) scale(0.88,1)" class="dg dk">1</text>
<text transform="translate(511.3,209.68) scale(0.88,1)" class="dg dk">13</text>
<text transform="translate(511.3,214.57) scale(0.88,1)" class="dg dk">1</text>
<text transform="translate(511.3,219.46) scale(0.88,1)" class="dg">8</text>
<text transform="translate(511.3,224.34) scale(0.88,1)" class="dg">4</text>
<text transform="translate(511.3,229.23) scale(0.88,1)" class="dg">4</text>
<text transform="translate(511.3,234.12) scale(0.88,1)" class="dg">4</text>
<text x="129.5" y="246.35" class="pt it">PRF1</text>
<text x="129.5" y="254.9" class="pt">G220R/</text>
<text x="129.5" y="263.45" class="pt">G220R</text>
<text x="169.7" y="266.65" class="pt it">PRF1</text>
<text x="169.7" y="275.2" class="pt">G317R/</text>
<text x="169.7" y="283.75" class="pt">D430Y</text>
<text x="183.1" y="308.55" class="pt it">RAB27A</text>
<text x="183.1" y="317.1" class="pt">Splice error/</text>
<text x="183.1" y="325.65" class="pt">R184X</text>
<text x="187.9" y="345.35" class="pt it">RAB27A</text>
<text x="187.9" y="353.9" class="pt">Splice error/</text>
<text x="187.9" y="362.45" class="pt">R184X</text>
<text x="175.7" y="383.75" class="pt it">UNC13D</text>
<text x="175.7" y="392.3" class="pt">L794RfsX2/</text>
<text x="175.7" y="400.85" class="pt">L794RfsX2</text>
<text x="141.9" y="406.45" class="pt it">UNC13D</text>
<text x="141.9" y="415" class="pt">R782SfsX1/</text>
<text x="141.9" y="423.55" class="pt">118-208C&gt;T</text>
<text x="107.0" y="424.25" class="pt it">UNC13D</text>
<text x="107.0" y="432.8" class="pt">Q178fs/</text>
<text x="107.0" y="441.35" class="pt">Inversion</text>
<text x="64.2" y="415.65" class="pt it">UNC13D</text>
<text x="64.2" y="424.2" class="pt">Inversion/</text>
<text x="64.2" y="432.75" class="pt">Inversion</text>
<text x="32.8" y="386.85" class="pt it">UNC13D</text>
<text x="32.8" y="395.4" class="pt">Inversion/</text>
<text x="32.8" y="403.95" class="pt">Inversion</text>
<text x="18.2" y="347.15" class="pt it">UNC13D</text>
<text x="18.2" y="355.7" class="pt">Inversion/</text>
<text x="18.2" y="364.25" class="pt">Inversion</text>
<text x="24.1" y="305.85" class="pt it">UNC13D</text>
<text x="24.1" y="314.4" class="pt">Inversion/</text>
<text x="24.1" y="322.95" class="pt">Inversion</text>
<text x="46.9" y="270.15" class="pt it">UNC13D</text>
<text x="46.9" y="278.7" class="pt">Inversion/</text>
<text x="46.9" y="287.25" class="pt">Inversion</text>
<text x="84.1" y="248.05" class="pt it">UNC13D</text>
<text x="84.1" y="256.6" class="pt">Inversion/</text>
<text x="84.1" y="265.15" class="pt">Inversion</text>
<text x="290" y="337.4" class="lg" text-anchor="middle"><tspan class="it">PRF1</tspan> (15%)</text>
<text x="289.5" y="350.3" class="lg it" text-anchor="middle">UNC13D</text>
<text x="289.5" y="358.6" class="lg" text-anchor="middle">118-208C&gt;T (4%)</text>
<text x="366.6" y="337.4" class="lg" text-anchor="middle"><tspan class="it">RAB27A</tspan> (15%)</text>
<text x="366.6" y="350.3" class="lg it" text-anchor="middle">UNC13D</text>
<text x="366.6" y="358.6" class="lg" text-anchor="middle">Inversion (50%)</text>
<text x="430.6" y="335.3" class="lg it" text-anchor="middle">UNC13D</text>
<text x="430.4" y="343.6" class="lg" text-anchor="middle">Others (15%)</text>
</g>
</g>
</svg>
</body></html>
